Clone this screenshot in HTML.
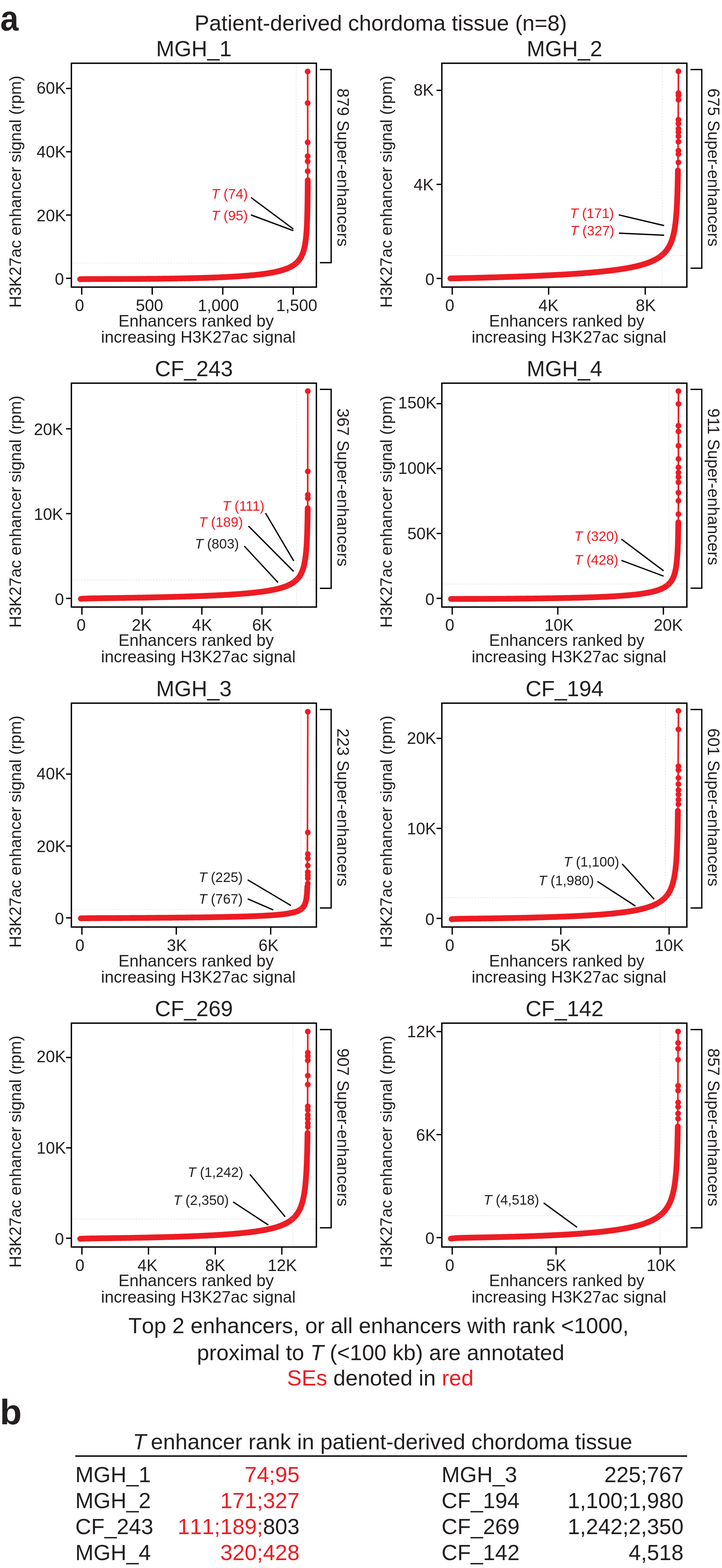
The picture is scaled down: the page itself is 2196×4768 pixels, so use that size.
<!DOCTYPE html>
<html lang="en"><head><meta charset="utf-8"><title>Patient-derived chordoma tissue - H3K27ac enhancer ranking</title>
<style>html,body{margin:0;padding:0;background:#fff}body{width:2196px;height:4768px;overflow:hidden}svg{display:block}text{font-family:'Liberation Sans', Arial, Helvetica, sans-serif;white-space:pre}.nk{font-kerning:none}</style>
</head><body>
<svg xmlns="http://www.w3.org/2000/svg" width="2196" height="4768" viewBox="0 0 2196 4768">
<rect width="2196" height="4768" fill="#fff"/>
<text transform="translate(1.1 93.4) scale(0.925 1)" font-size="107.7" font-weight="bold" fill="#231f20">a</text>
<text x="1158" y="93.3" font-size="66.7" text-anchor="middle" fill="#231f20">Patient-derived chordoma tissue (n=8)</text>
<g>
<text x="589.7" y="170.6" font-size="66.7" text-anchor="middle" fill="#231f20">MGH_1</text>
<path d="M219.5 799.8H960.5" stroke="#d2d2d2" stroke-width="1.4" stroke-dasharray="4.4 4.4" fill="none"/>
<path d="M900.8 194.3V871" stroke="#d2d2d2" stroke-width="1.4" stroke-dasharray="4.4 4.4" fill="none"/>
<path d="M243.8 849 246.9 848.9 250 848.8 253.1 848.8 256.2 848.7 259.3 848.7 262.3 848.6 265.4 848.6 268.4 848.6 271.4 848.6 274.4 848.5 277.4 848.5 280.3 848.5 283.3 848.5 286.2 848.5 289.2 848.5 292.1 848.5 295 848.5 297.9 848.5 300.8 848.5 303.6 848.5 306.5 848.5 309.3 848.5 312.1 848.5 315 848.5 317.8 848.5 320.5 848.4 323.3 848.4 326.1 848.4 328.8 848.4 331.6 848.4 334.3 848.4 337 848.4 339.7 848.4 342.4 848.4 345.1 848.4 347.7 848.4 350.4 848.4 353 848.4 355.7 848.4 358.3 848.4 360.9 848.4 363.5 848.4 366.1 848.4 368.6 848.4 371.2 848.3 373.7 848.3 376.3 848.3 378.8 848.3 381.3 848.3 383.8 848.3 386.3 848.3 388.8 848.3 391.3 848.3 393.7 848.3 396.2 848.3 398.6 848.2 401 848.2 403.4 848.2 405.8 848.2 408.2 848.2 410.6 848.2 413 848.2 415.3 848.2 417.7 848.1 420 848.1 422.4 848.1 424.7 848.1 427 848.1 429.3 848.1 431.6 848.1 433.8 848 436.1 848 438.4 848 440.6 848 442.8 848 445.1 848 447.3 847.9 449.5 847.9 451.7 847.9 453.9 847.9 456 847.9 458.2 847.8 460.4 847.8 462.5 847.8 464.6 847.8 466.8 847.8 468.9 847.7 471 847.7 473.1 847.7 475.2 847.7 477.3 847.7 479.3 847.6 481.4 847.6 483.4 847.6 485.5 847.6 487.5 847.6 489.5 847.5 491.5 847.5 493.6 847.5 496.5 847.4 499.5 847.4 502.5 847.4 505.4 847.3 508.3 847.3 511.2 847.3 514.1 847.2 516.9 847.2 519.8 847.1 522.6 847.1 525.4 847 528.1 847 530.9 847 533.6 846.9 536.4 846.9 539.1 846.8 541.8 846.8 544.4 846.7 547.1 846.7 549.7 846.6 552.3 846.6 554.9 846.5 557.5 846.5 560 846.4 562.6 846.4 565.1 846.3 567.6 846.3 570.1 846.2 572.6 846.2 575 846.1 577.5 846.1 579.9 846 582.3 846 584.7 845.9 587.1 845.9 589.4 845.8 591.8 845.7 594.1 845.7 596.4 845.6 598.7 845.6 601 845.5 603.3 845.4 605.5 845.4 607.8 845.3 610 845.3 612.2 845.2 614.4 845.1 616.6 845.1 618.7 845 620.9 844.9 623 844.9 625.1 844.8 627.2 844.8 629.3 844.7 631.4 844.6 633.4 844.6 635.5 844.5 637.5 844.4 639.5 844.3 641.5 844.3 644.2 844.2 646.8 844.1 649.4 844 652 843.9 654.6 843.8 657.1 843.7 659.6 843.6 662.1 843.5 664.6 843.4 667 843.3 669.5 843.2 671.9 843.1 674.2 843 676.6 842.9 678.9 842.8 681.3 842.7 683.6 842.6 685.8 842.5 688.1 842.3 690.3 842.2 692.5 842.1 694.7 842 696.9 841.9 699.1 841.8 701.2 841.7 703.3 841.6 705.4 841.4 707.5 841.3 709.6 841.2 711.6 841.1 713.6 841 715.6 840.8 718.1 840.7 720.6 840.5 723 840.4 725.4 840.2 727.8 840.1 730.1 839.9 732.4 839.7 734.7 839.6 737 839.4 739.2 839.3 741.5 839.1 743.6 838.9 745.8 838.8 748 838.6 750.1 838.4 752.2 838.2 754.2 838.1 756.3 837.9 758.3 837.7 760.3 837.5 762.7 837.3 765 837.1 767.3 836.9 769.6 836.7 771.9 836.5 774.1 836.2 776.3 836 778.4 835.8 780.6 835.6 782.7 835.3 784.7 835.1 786.8 834.9 788.8 834.6 790.8 834.4 793.1 834.1 795.3 833.8 797.6 833.5 799.7 833.3 801.9 833 804 832.7 806.1 832.4 808.1 832.1 810.2 831.8 812.1 831.5 814.4 831.1 816.6 830.8 818.7 830.4 820.8 830.1 822.9 829.7 824.9 829.4 826.9 829 828.9 828.6 831.1 828.2 833.2 827.8 835.3 827.4 837.3 826.9 839.3 826.5 841.3 826.1 843.4 825.6 845.5 825.1 847.5 824.6 849.5 824.1 851.5 823.6 853.6 823 855.6 822.4 857.6 821.8 859.6 821.2 861.6 820.6 863.6 819.9 865.6 819.3 867.5 818.6 869.5 817.9 871.4 817.1 873.3 816.4 875.3 815.6 877.2 814.8 879.1 813.9 881 813 882.9 812.1 884.6 811.2 886.5 810.1 888.3 809.1 890 808.1 891.8 807 893.5 805.8 895.2 804.6 896.8 803.4 898.4 802.1 900 800.8 901.6 799.4 903.1 798 904.6 796.6 906 795.1 907.3 793.5 908.6 792 909.9 790.4 911.1 788.7 912.3 787 913.5 785.3 914.5 783.5 915.6 781.7 916.6 779.9 917.5 778 918.4 776.1 919.2 774.2 920 772.4 920.8 770.5 921.5 768.6 922.1 766.6 922.8 764.6 923.4 762.6 924 760.7 924.5 758.8 925 756.8 925.5 754.7 926 752.7 926.4 750.7 926.8 748.7 927.2 746.7 927.6 744.7 928 742.6 928.3 740.6 928.6 738.6 928.9 736.6 929.2 734.5 929.5 732.4 929.8 730.4 930 728.4 930.3 726.4 930.5 724.3 930.7 722.2 930.9 720.1 931.1 718.1 931.3 716.1 931.5 714 931.7 711.9 931.9 709.9 932 707.7 932.2 705.7 932.3 703.7 932.5 701.7 932.6 699.6 932.7 697.5 932.9 695.4 933 693.3 933.1 691.3 933.2 689.3 933.3 687.2 933.4 685.2 933.5 683.1 933.6 681 933.7 678.9 933.8 676.7 933.9 674.6 933.9 672.6 934 670.5 934.1 668.5 934.2 666.4 934.2 664.3 934.3 662.2 934.4 660.1 934.4 658 934.5 655.8 934.6 653.6 934.6 651.6 934.7 649.6 934.7 647.5 934.8 645.5 934.8 643.4 934.9 641.3 934.9 639.2 935 637.1 935 634.9 935.1 632.7 935.1 630.5 935.1 628.5 935.2 626.5 935.2 624.5 935.3 622.4 935.3 620.4 935.3 618.3 935.4 616.2 935.4 614.1 935.4 612 935.5 609.8 935.5 607.7 935.5 605.5 935.5 603.3 935.6 601.1 935.6 598.9 935.6 596.9 935.6 594.8 935.7 592.8 935.7 590.7 935.7 588.7 935.7 586.6 935.8 584.5 935.8 582.4 935.8 580.3 935.8 578.1 935.8 576 935.9 573.8 935.9 571.6 935.9 569.4 935.9 567.2 935.9 565 936 562.7 936 560.7 936 558.7 936 556.7 936 554.6 936 552.6 936 550.5 936.1 548.4 936.1 547.7" stroke="#ed1c24" stroke-width="17.6" stroke-linecap="round" stroke-linejoin="round" fill="none"/>
<path d="M936.1 547.7L935.8 217.4" stroke="#ed1c24" stroke-width="4.9" fill="none"/>
<circle cx="935.8" cy="217.4" r="8.8" fill="#ed1c24"/>
<circle cx="935.8" cy="313.2" r="8.8" fill="#ed1c24"/>
<circle cx="935.8" cy="432.9" r="8.8" fill="#ed1c24"/>
<circle cx="935.8" cy="475" r="8.8" fill="#ed1c24"/>
<circle cx="935.8" cy="490.5" r="8.8" fill="#ed1c24"/>
<circle cx="935.8" cy="520.5" r="8.8" fill="#ed1c24"/>
<path d="M219.5 799.8H960.5" stroke="#fff" stroke-opacity=".22" stroke-width="1.4" stroke-dasharray="4.4 4.4" fill="none"/>
<path d="M900.8 194.3V871" stroke="#fff" stroke-opacity=".22" stroke-width="1.4" stroke-dasharray="4.4 4.4" fill="none"/>
<rect x="217.1" y="192.3" width="745.2" height="680.7" fill="none" stroke="#000000" stroke-width="4.2"/>
<path d="M200.9 269H217.1" stroke="#000000" stroke-width="4"/>
<text x="200.3" y="285.4" font-size="50" text-anchor="end" fill="#231f20">60K</text>
<path d="M200.9 461.4H217.1" stroke="#000000" stroke-width="4"/>
<text x="200.3" y="479.1" font-size="50" text-anchor="end" fill="#231f20">40K</text>
<path d="M200.9 653.9H217.1" stroke="#000000" stroke-width="4"/>
<text x="200.3" y="672.7" font-size="50" text-anchor="end" fill="#231f20">20K</text>
<path d="M200.9 846.3H217.1" stroke="#000000" stroke-width="4"/>
<text x="194.6" y="866.4" font-size="50" text-anchor="end" fill="#231f20">0</text>
<path d="M248.6 873V896" stroke="#000000" stroke-width="4"/>
<text x="241.8" y="946.3" font-size="50" text-anchor="middle" fill="#231f20">0</text>
<path d="M463 873V896" stroke="#000000" stroke-width="4"/>
<text x="454.6" y="946.3" font-size="50" text-anchor="middle" fill="#231f20">500</text>
<path d="M677.6 873V896" stroke="#000000" stroke-width="4"/>
<text x="664" y="946.3" font-size="50" text-anchor="middle" fill="#231f20">1,000</text>
<path d="M892 873V896" stroke="#000000" stroke-width="4"/>
<text x="902.5" y="946.3" font-size="50" text-anchor="middle" fill="#231f20">1,500</text>
<text x="360.3" y="992.6" font-size="50" text-anchor="start" fill="#231f20">Enhancers ranked by</text>
<text x="603.2" y="1042.2" font-size="50" text-anchor="middle" fill="#231f20">increasing H3K27ac signal</text>
<text transform="translate(64.3 935.8) rotate(-90)" font-size="50" fill="#231f20">H3K27ac enhancer signal (rpm)</text>
<path d="M973 211.6H1007.2V798.8H973" stroke="#000000" stroke-width="4" fill="none"/>
<text transform="translate(1025.8 268.8) rotate(90)" font-size="50" fill="#231f20">879 Super-enhancers</text>
<text x="754" y="603.7" font-size="41.7" text-anchor="end" fill="#ed1c24"><tspan font-style="italic">T</tspan> (74)</text>
<path d="M763.4 600.5L892.2 696.3" stroke="#000000" stroke-width="4" fill="none"/>
<text x="754" y="670.2" font-size="41.7" text-anchor="end" fill="#ed1c24"><tspan font-style="italic">T</tspan> (95)</text>
<path d="M763.4 653.5L892.2 701.3" stroke="#000000" stroke-width="4" fill="none"/>
</g>
<g>
<text x="1717" y="170.6" font-size="66.7" text-anchor="middle" fill="#231f20">MGH_2</text>
<path d="M1346.8 777H2087.8" stroke="#d2d2d2" stroke-width="1.4" stroke-dasharray="4.4 4.4" fill="none"/>
<path d="M2013.8 194.3V871" stroke="#d2d2d2" stroke-width="1.4" stroke-dasharray="4.4 4.4" fill="none"/>
<path d="M1369.9 846.6 1373 846.6 1376.1 846.5 1379.2 846.5 1382.3 846.4 1385.4 846.3 1388.4 846.3 1391.5 846.2 1394.5 846.1 1397.5 846.1 1400.5 846 1403.5 845.9 1406.5 845.8 1409.5 845.8 1412.4 845.7 1415.3 845.6 1418.3 845.6 1421.2 845.5 1424.1 845.4 1426.9 845.4 1429.8 845.3 1432.7 845.2 1435.5 845.2 1438.3 845.1 1441.2 845 1444 845 1446.8 844.9 1449.5 844.8 1452.3 844.7 1455.1 844.7 1457.8 844.6 1460.5 844.5 1463.3 844.5 1466 844.4 1468.6 844.3 1471.3 844.2 1474 844.2 1476.7 844.1 1479.3 844 1481.9 844 1484.6 843.9 1487.2 843.8 1489.8 843.7 1492.3 843.7 1494.9 843.6 1497.5 843.5 1500 843.5 1502.6 843.4 1505.1 843.3 1507.6 843.2 1510.1 843.2 1512.6 843.1 1515.1 843 1517.6 842.9 1520 842.9 1522.5 842.8 1524.9 842.7 1527.4 842.6 1529.8 842.6 1532.2 842.5 1534.6 842.4 1537 842.3 1539.3 842.3 1541.7 842.2 1544 842.1 1546.4 842 1548.7 841.9 1551 841.9 1553.3 841.8 1555.6 841.7 1557.9 841.6 1560.2 841.6 1562.5 841.5 1564.7 841.4 1567 841.3 1569.2 841.3 1571.5 841.2 1573.7 841.1 1575.9 841 1578.1 840.9 1580.3 840.9 1582.4 840.8 1584.6 840.7 1586.8 840.6 1588.9 840.5 1591.1 840.5 1593.2 840.4 1595.3 840.3 1597.4 840.2 1599.5 840.1 1601.6 840.1 1603.7 840 1605.8 839.9 1607.8 839.8 1609.9 839.7 1611.9 839.6 1614 839.6 1616 839.5 1618 839.4 1620 839.3 1622 839.2 1625 839.1 1628 839 1630.9 838.9 1633.8 838.7 1636.7 838.6 1639.6 838.5 1642.5 838.4 1645.3 838.2 1648.1 838.1 1651 838 1653.7 837.8 1656.5 837.7 1659.3 837.6 1662 837.5 1664.7 837.3 1667.4 837.2 1670.1 837.1 1672.7 836.9 1675.4 836.8 1678 836.7 1680.6 836.5 1683.2 836.4 1685.8 836.3 1688.3 836.1 1690.8 836 1693.4 835.9 1695.9 835.7 1698.3 835.6 1700.8 835.5 1703.3 835.3 1705.7 835.2 1708.1 835.1 1710.5 834.9 1712.9 834.8 1715.3 834.7 1717.6 834.5 1720 834.4 1722.3 834.2 1724.6 834.1 1726.9 834 1729.1 833.8 1731.4 833.7 1733.6 833.5 1735.9 833.4 1738.1 833.3 1740.3 833.1 1742.5 833 1744.6 832.8 1746.8 832.7 1748.9 832.5 1751.1 832.4 1753.2 832.2 1755.3 832.1 1757.4 832 1759.4 831.8 1761.5 831.7 1763.5 831.5 1765.5 831.4 1767.6 831.2 1769.6 831.1 1772.2 830.9 1774.8 830.7 1777.4 830.5 1780 830.3 1782.6 830.1 1785.1 829.9 1787.6 829.7 1790.1 829.5 1792.5 829.3 1795 829.1 1797.4 828.9 1799.8 828.6 1802.2 828.4 1804.5 828.2 1806.8 828 1809.2 827.8 1811.4 827.6 1813.7 827.4 1816 827.2 1818.2 827 1820.4 826.8 1822.6 826.5 1824.8 826.3 1826.9 826.1 1829 825.9 1831.1 825.7 1833.2 825.5 1835.3 825.2 1837.4 825 1839.4 824.8 1841.4 824.6 1843.4 824.4 1845.9 824.1 1848.3 823.8 1850.8 823.5 1853.2 823.2 1855.5 823 1857.9 822.7 1860.2 822.4 1862.5 822.1 1864.7 821.8 1866.9 821.5 1869.2 821.2 1871.3 820.9 1873.5 820.6 1875.6 820.4 1877.8 820.1 1879.8 819.8 1881.9 819.5 1884 819.2 1886 818.9 1888 818.6 1890.3 818.2 1892.7 817.8 1895 817.5 1897.2 817.1 1899.5 816.7 1901.7 816.3 1903.9 816 1906 815.6 1908.2 815.2 1910.3 814.8 1912.3 814.4 1914.4 814 1916.4 813.7 1918.4 813.3 1920.6 812.8 1922.9 812.4 1925.1 811.9 1927.3 811.4 1929.4 811 1931.5 810.5 1933.6 810 1935.6 809.5 1937.6 809.1 1939.6 808.6 1941.6 808.1 1943.8 807.5 1945.9 807 1948 806.4 1950.1 805.8 1952.1 805.3 1954.1 804.7 1956.1 804.1 1958 803.5 1960.2 802.9 1962.2 802.2 1964.3 801.5 1966.3 800.8 1968.3 800.1 1970.2 799.5 1972.1 798.8 1974.1 798 1976.1 797.2 1978.1 796.4 1980 795.6 1981.9 794.8 1983.7 794 1985.7 793.1 1987.6 792.2 1989.5 791.3 1991.3 790.4 1993.1 789.4 1995 788.4 1996.8 787.4 1998.6 786.3 2000.3 785.3 2002 784.2 2003.8 783.1 2005.6 781.9 2007.2 780.7 2008.9 779.5 2010.5 778.3 2012.1 776.9 2013.7 775.6 2015.3 774.3 2016.8 772.9 2018.3 771.5 2019.8 770 2021.3 768.5 2022.7 766.9 2024.1 765.4 2025.4 763.8 2026.7 762.2 2027.9 760.6 2029.1 759 2030.3 757.3 2031.4 755.6 2032.5 753.9 2033.5 752.2 2034.5 750.5 2035.5 748.7 2036.4 746.9 2037.4 745.1 2038.2 743.3 2039.1 741.5 2039.9 739.6 2040.7 737.7 2041.5 735.8 2042.2 733.9 2043 731.9 2043.7 729.9 2044.3 727.9 2045 725.9 2045.6 724 2046.1 722.1 2046.7 720.1 2047.2 718.1 2047.7 716.1 2048.3 714.1 2048.7 712 2049.2 710 2049.7 707.9 2050.1 705.9 2050.5 703.9 2050.9 701.9 2051.2 699.9 2051.6 697.8 2052 695.8 2052.3 693.7 2052.6 691.6 2053 689.4 2053.3 687.4 2053.5 685.4 2053.8 683.4 2054.1 681.3 2054.4 679.3 2054.6 677.2 2054.9 675.1 2055.1 672.9 2055.3 670.8 2055.5 668.8 2055.7 666.8 2055.9 664.8 2056.1 662.7 2056.3 660.6 2056.5 658.6 2056.7 656.5 2056.9 654.4 2057 652.2 2057.2 650.1 2057.4 647.9 2057.5 645.7 2057.7 643.7 2057.8 641.7 2058 639.6 2058.1 637.6 2058.2 635.5 2058.3 633.4 2058.5 631.3 2058.6 629.2 2058.7 627 2058.8 624.9 2058.9 622.7 2059 620.5 2059.2 618.3 2059.3 616.3 2059.3 614.3 2059.4 612.2 2059.5 610.2 2059.6 608.1 2059.7 606 2059.8 604 2059.9 601.8 2059.9 599.7 2060 597.6 2060.1 595.4 2060.2 593.3 2060.3 591.1 2060.3 588.9 2060.4 586.7 2060.5 584.4 2060.5 582.2 2060.6 580.2 2060.7 578.1 2060.7 576.1 2060.8 574.1 2060.8 572 2060.9 569.9 2060.9 567.8 2061 565.7 2061 563.6 2061.1 561.5 2061.1 559.3 2061.2 557.2 2061.2 555 2061.3 552.8 2061.3 550.6 2061.4 548.4 2061.4 546.2 2061.5 543.9 2061.5 541.7 2061.6 539.4 2061.6 537.1 2061.6 535.1 2061.7 533.1 2061.7 531 2061.7 529 2061.8 526.9 2061.8 524.9 2061.8 522.8 2061.9 520.7 2061.9 518.6 2061.9 518.3" stroke="#ed1c24" stroke-width="17.6" stroke-linecap="round" stroke-linejoin="round" fill="none"/>
<path d="M2061.9 518.3L2063.5 216.8" stroke="#ed1c24" stroke-width="4.9" fill="none"/>
<circle cx="2063.5" cy="216.8" r="8.8" fill="#ed1c24"/>
<circle cx="2063.5" cy="283.3" r="8.8" fill="#ed1c24"/>
<circle cx="2063.5" cy="290.7" r="8.8" fill="#ed1c24"/>
<circle cx="2063.5" cy="303.4" r="8.8" fill="#ed1c24"/>
<circle cx="2063.5" cy="364" r="8.8" fill="#ed1c24"/>
<circle cx="2063.5" cy="375.7" r="8.8" fill="#ed1c24"/>
<circle cx="2063.5" cy="391.2" r="8.8" fill="#ed1c24"/>
<circle cx="2063.5" cy="401.7" r="8.8" fill="#ed1c24"/>
<circle cx="2063.5" cy="414.2" r="8.8" fill="#ed1c24"/>
<circle cx="2063.5" cy="431" r="8.8" fill="#ed1c24"/>
<circle cx="2063.5" cy="458.1" r="8.8" fill="#ed1c24"/>
<circle cx="2063.5" cy="468.6" r="8.8" fill="#ed1c24"/>
<circle cx="2063.5" cy="493.7" r="8.8" fill="#ed1c24"/>
<path d="M1346.8 777H2087.8" stroke="#fff" stroke-opacity=".22" stroke-width="1.4" stroke-dasharray="4.4 4.4" fill="none"/>
<path d="M2013.8 194.3V871" stroke="#fff" stroke-opacity=".22" stroke-width="1.4" stroke-dasharray="4.4 4.4" fill="none"/>
<rect x="1343.9" y="192.3" width="745.2" height="680.7" fill="none" stroke="#000000" stroke-width="4.2"/>
<path d="M1327.7 274.7H1343.9" stroke="#000000" stroke-width="4"/>
<text x="1319.1" y="291.1" font-size="50" text-anchor="end" fill="#231f20">8K</text>
<path d="M1327.7 560.7H1343.9" stroke="#000000" stroke-width="4"/>
<text x="1319.1" y="579" font-size="50" text-anchor="end" fill="#231f20">4K</text>
<path d="M1327.7 846.7H1343.9" stroke="#000000" stroke-width="4"/>
<text x="1321.4" y="866.8" font-size="50" text-anchor="end" fill="#231f20">0</text>
<path d="M1375.5 873V896" stroke="#000000" stroke-width="4"/>
<text x="1368" y="946.3" font-size="50" text-anchor="middle" fill="#231f20">0</text>
<path d="M1668.7 873V896" stroke="#000000" stroke-width="4"/>
<text x="1668.3" y="946.3" font-size="50" text-anchor="middle" fill="#231f20">4K</text>
<path d="M1962.5 873V896" stroke="#000000" stroke-width="4"/>
<text x="1964" y="946.3" font-size="50" text-anchor="middle" fill="#231f20">8K</text>
<text x="1487.6" y="992.6" font-size="50" text-anchor="start" fill="#231f20">Enhancers ranked by</text>
<text x="1730.5" y="1042.2" font-size="50" text-anchor="middle" fill="#231f20">increasing H3K27ac signal</text>
<text transform="translate(1191.6 935.8) rotate(-90)" font-size="50" fill="#231f20">H3K27ac enhancer signal (rpm)</text>
<path d="M2100.3 211.5H2134.5V815.6H2100.3" stroke="#000000" stroke-width="4" fill="none"/>
<text transform="translate(2153.1 268.8) rotate(90)" font-size="50" fill="#231f20">675 Super-enhancers</text>
<text x="1867.5" y="662.5" font-size="41.7" text-anchor="end" fill="#ed1c24"><tspan font-style="italic">T</tspan> (171)</text>
<path d="M1882 653.4L2020 686" stroke="#000000" stroke-width="4" fill="none"/>
<text x="1868.5" y="715.5" font-size="41.7" text-anchor="end" fill="#ed1c24"><tspan font-style="italic">T</tspan> (327)</text>
<path d="M1882.8 709L2020 715.3" stroke="#000000" stroke-width="4" fill="none"/>
</g>
<g>
<text x="589.7" y="1143.5" font-size="66.7" text-anchor="middle" fill="#231f20">CF_243</text>
<path d="M219.5 1764H960.5" stroke="#d2d2d2" stroke-width="1.4" stroke-dasharray="4.4 4.4" fill="none"/>
<path d="M902.3 1167.2V1843.9" stroke="#d2d2d2" stroke-width="1.4" stroke-dasharray="4.4 4.4" fill="none"/>
<path d="M245.9 1821 249 1820.7 252.1 1820.5 255.2 1820.3 258.3 1820.2 261.3 1820.1 264.4 1820 267.4 1819.9 270.4 1819.8 273.4 1819.7 276.4 1819.6 279.4 1819.6 282.4 1819.5 285.3 1819.4 288.2 1819.4 291.2 1819.4 294.1 1819.3 297 1819.3 299.9 1819.2 302.7 1819.2 305.6 1819.1 308.4 1819.1 311.3 1819.1 314.1 1819 316.9 1819 319.7 1818.9 322.5 1818.9 325.2 1818.9 328 1818.8 330.7 1818.8 333.5 1818.8 336.2 1818.7 338.9 1818.7 341.6 1818.6 344.3 1818.6 347 1818.6 349.6 1818.5 352.3 1818.5 354.9 1818.5 357.5 1818.4 360.1 1818.4 362.7 1818.3 365.3 1818.3 367.9 1818.3 370.5 1818.2 373 1818.2 375.6 1818.1 378.1 1818.1 380.6 1818.1 383.1 1818 385.6 1818 388.1 1817.9 390.6 1817.9 393 1817.9 395.5 1817.8 397.9 1817.8 400.4 1817.7 402.8 1817.7 405.2 1817.7 407.6 1817.6 410 1817.6 412.3 1817.5 414.7 1817.5 417.1 1817.5 419.4 1817.4 421.7 1817.4 424.1 1817.3 426.4 1817.3 428.7 1817.2 431 1817.2 433.2 1817.2 435.5 1817.1 437.8 1817.1 440 1817 442.3 1817 444.5 1816.9 446.7 1816.9 448.9 1816.9 451.1 1816.8 453.3 1816.8 455.5 1816.7 457.7 1816.7 459.8 1816.6 462 1816.6 464.1 1816.5 466.2 1816.5 468.4 1816.5 470.5 1816.4 472.6 1816.4 474.7 1816.3 476.8 1816.3 478.8 1816.2 480.9 1816.2 483 1816.1 485 1816.1 487 1816 489.1 1816 491.1 1816 493.1 1815.9 495.1 1815.9 498.1 1815.8 501.1 1815.7 504 1815.6 506.9 1815.6 509.8 1815.5 512.7 1815.4 515.6 1815.4 518.4 1815.3 521.3 1815.2 524.1 1815.1 526.8 1815.1 529.6 1815 532.4 1814.9 535.1 1814.8 537.8 1814.8 540.5 1814.7 543.2 1814.6 545.9 1814.5 548.5 1814.5 551.1 1814.4 553.7 1814.3 556.3 1814.2 558.9 1814.2 561.4 1814.1 564 1814 566.5 1813.9 569 1813.8 571.5 1813.8 574 1813.7 576.4 1813.6 578.8 1813.5 581.3 1813.4 583.7 1813.4 586.1 1813.3 588.4 1813.2 590.8 1813.1 593.1 1813 595.4 1813 597.8 1812.9 600 1812.8 602.3 1812.7 604.6 1812.6 606.8 1812.5 609.1 1812.5 611.3 1812.4 613.5 1812.3 615.7 1812.2 617.8 1812.1 620 1812 622.1 1811.9 624.3 1811.9 626.4 1811.8 628.5 1811.7 630.6 1811.6 632.6 1811.5 634.7 1811.4 636.7 1811.3 638.8 1811.2 640.8 1811.2 642.8 1811.1 645.4 1810.9 648 1810.8 650.6 1810.7 653.2 1810.6 655.8 1810.5 658.3 1810.3 660.8 1810.2 663.3 1810.1 665.8 1810 668.2 1809.8 670.6 1809.7 673 1809.6 675.4 1809.5 677.8 1809.3 680.1 1809.2 682.4 1809.1 684.7 1809 687 1808.8 689.2 1808.7 691.4 1808.6 693.7 1808.4 695.9 1808.3 698 1808.2 700.2 1808 702.3 1807.9 704.4 1807.8 706.5 1807.6 708.6 1807.5 710.6 1807.3 712.7 1807.2 714.7 1807.1 716.7 1806.9 719.2 1806.8 721.6 1806.6 724.1 1806.4 726.4 1806.2 728.8 1806.1 731.2 1805.9 733.5 1805.7 735.8 1805.5 738 1805.3 740.3 1805.1 742.5 1805 744.7 1804.8 746.8 1804.6 749 1804.4 751.1 1804.2 753.2 1804 755.2 1803.8 757.3 1803.6 759.3 1803.5 761.3 1803.3 763.7 1803 766 1802.8 768.3 1802.6 770.6 1802.3 772.8 1802.1 775 1801.8 777.2 1801.6 779.4 1801.4 781.5 1801.1 783.6 1800.9 785.7 1800.6 787.7 1800.4 789.7 1800.1 791.7 1799.9 794 1799.6 796.3 1799.3 798.5 1799 800.6 1798.7 802.8 1798.4 804.9 1798 807 1797.7 809 1797.4 811 1797.1 813 1796.8 815.2 1796.4 817.4 1796.1 819.6 1795.7 821.7 1795.3 823.8 1794.9 825.8 1794.6 827.8 1794.2 830 1793.7 832.2 1793.3 834.3 1792.9 836.3 1792.4 838.4 1792 840.4 1791.5 842.3 1791 844.4 1790.5 846.5 1790 848.5 1789.5 850.5 1789 852.5 1788.4 854.6 1787.8 856.6 1787.2 858.6 1786.6 860.5 1786 862.6 1785.3 864.6 1784.6 866.5 1783.9 868.4 1783.2 870.4 1782.5 872.3 1781.7 874.2 1780.9 876.2 1780.1 878.1 1779.2 879.9 1778.3 881.7 1777.4 883.6 1776.4 885.4 1775.4 887.1 1774.4 888.9 1773.4 890.6 1772.3 892.3 1771.1 894 1769.9 895.6 1768.7 897.2 1767.5 898.8 1766.1 900.3 1764.8 901.8 1763.4 903.3 1761.9 904.7 1760.4 906.1 1758.8 907.4 1757.3 908.7 1755.7 909.9 1754 911.1 1752.4 912.2 1750.7 913.2 1749 914.2 1747.2 915.2 1745.5 916.1 1743.6 917 1741.8 917.9 1739.9 918.7 1738 919.5 1736.1 920.2 1734.2 920.9 1732.3 921.6 1730.4 922.2 1728.4 922.8 1726.4 923.4 1724.4 923.9 1722.4 924.4 1720.4 924.9 1718.4 925.4 1716.4 925.8 1714.4 926.2 1712.4 926.6 1710.4 927 1708.3 927.4 1706.3 927.7 1704.3 928 1702.3 928.4 1700.2 928.7 1698.2 928.9 1696.1 929.2 1694 929.5 1692 929.7 1689.9 930 1687.9 930.2 1685.8 930.4 1683.7 930.6 1681.5 930.8 1679.5 931 1677.5 931.2 1675.4 931.4 1673.3 931.6 1671.2 931.7 1669.1 931.9 1667.1 932 1665.1 932.2 1663 932.3 1661 932.5 1658.9 932.6 1656.8 932.7 1654.6 932.9 1652.5 933 1650.5 933.1 1648.5 933.2 1646.4 933.3 1644.4 933.4 1642.3 933.5 1640.2 933.6 1638.1 933.7 1635.9 933.8 1633.7 933.9 1631.6 933.9 1629.5 934 1627.5 934.1 1625.5 934.2 1623.4 934.3 1621.3 934.3 1619.2 934.4 1617.1 934.5 1614.9 934.5 1612.8 934.6 1610.6 934.7 1608.4 934.7 1606.4 934.8 1604.4 934.8 1602.3 934.9 1600.3 934.9 1598.2 935 1596.1 935 1594 935.1 1591.9 935.1 1589.7 935.2 1587.6 935.2 1585.4 935.3 1583.2 935.3 1581 935.3 1578.8 935.4 1576.7 935.4 1574.7 935.5 1572.7 935.5 1570.7 935.5 1568.6 935.6 1566.5 935.6 1564.4 935.6 1562.3 935.7 1560.2 935.7 1558.1 935.7 1555.9 935.8 1553.7 935.8 1551.6 935.8 1549.4 935.8 1547.1 935.9 1545.2" stroke="#ed1c24" stroke-width="17.6" stroke-linecap="round" stroke-linejoin="round" fill="none"/>
<path d="M935.9 1545.2L936.2 1189.3" stroke="#ed1c24" stroke-width="4.9" fill="none"/>
<circle cx="936.2" cy="1189.3" r="8.8" fill="#ed1c24"/>
<circle cx="936.2" cy="1433.3" r="8.8" fill="#ed1c24"/>
<circle cx="936.2" cy="1504.7" r="8.8" fill="#ed1c24"/>
<circle cx="936.2" cy="1515" r="8.8" fill="#ed1c24"/>
<path d="M219.5 1764H960.5" stroke="#fff" stroke-opacity=".22" stroke-width="1.4" stroke-dasharray="4.4 4.4" fill="none"/>
<path d="M902.3 1167.2V1843.9" stroke="#fff" stroke-opacity=".22" stroke-width="1.4" stroke-dasharray="4.4 4.4" fill="none"/>
<rect x="217.1" y="1165.2" width="745.2" height="680.7" fill="none" stroke="#000000" stroke-width="4.2"/>
<path d="M200.9 1303.9H217.1" stroke="#000000" stroke-width="4"/>
<text x="191.9" y="1322.5" font-size="50" text-anchor="end" fill="#231f20">20K</text>
<path d="M200.9 1561.8H217.1" stroke="#000000" stroke-width="4"/>
<text x="191.9" y="1581.1" font-size="50" text-anchor="end" fill="#231f20">10K</text>
<path d="M200.9 1819.6H217.1" stroke="#000000" stroke-width="4"/>
<text x="194.6" y="1839.7" font-size="50" text-anchor="end" fill="#231f20">0</text>
<path d="M249.1 1845.9V1868.9" stroke="#000000" stroke-width="4"/>
<text x="246.8" y="1917.7" font-size="50" text-anchor="middle" fill="#231f20">0</text>
<path d="M431.9 1845.9V1868.9" stroke="#000000" stroke-width="4"/>
<text x="431.2" y="1917.7" font-size="50" text-anchor="middle" fill="#231f20">2K</text>
<path d="M614 1845.9V1868.9" stroke="#000000" stroke-width="4"/>
<text x="614.7" y="1917.7" font-size="50" text-anchor="middle" fill="#231f20">4K</text>
<path d="M796.8 1845.9V1868.9" stroke="#000000" stroke-width="4"/>
<text x="797.6" y="1917.7" font-size="50" text-anchor="middle" fill="#231f20">6K</text>
<text x="360.3" y="1964" font-size="50" text-anchor="start" fill="#231f20">Enhancers ranked by</text>
<text x="603.2" y="2013.6" font-size="50" text-anchor="middle" fill="#231f20">increasing H3K27ac signal</text>
<text transform="translate(64.3 1908.7) rotate(-90)" font-size="50" fill="#231f20">H3K27ac enhancer signal (rpm)</text>
<path d="M973 1183.9H1007.2V1789H973" stroke="#000000" stroke-width="4" fill="none"/>
<text transform="translate(1025.8 1241.7) rotate(90)" font-size="50" fill="#231f20">367 Super-enhancers</text>
<text x="804.5" y="1552.5" font-size="41.7" text-anchor="end" fill="#ed1c24"><tspan font-style="italic">T</tspan> (111)</text>
<path d="M807.6 1560.3L893.5 1705.8" stroke="#000000" stroke-width="4" fill="none"/>
<text x="739.1" y="1601.7" font-size="41.7" text-anchor="end" fill="#ed1c24"><tspan font-style="italic">T</tspan> (189)</text>
<path d="M755.7 1599.6L893 1737.5" stroke="#000000" stroke-width="4" fill="none"/>
<text x="727" y="1668.3" font-size="41.7" text-anchor="end" fill="#231f20"><tspan font-style="italic">T</tspan> (803)</text>
<path d="M743 1660.6L845.6 1771.4" stroke="#000000" stroke-width="4" fill="none"/>
</g>
<g>
<text x="1717" y="1143.5" font-size="66.7" text-anchor="middle" fill="#231f20">MGH_4</text>
<path d="M1346.8 1776H2087.8" stroke="#d2d2d2" stroke-width="1.4" stroke-dasharray="4.4 4.4" fill="none"/>
<path d="M2034.5 1167.2V1843.9" stroke="#d2d2d2" stroke-width="1.4" stroke-dasharray="4.4 4.4" fill="none"/>
<path d="M1371.7 1821.2 1374.8 1821.2 1377.9 1821.2 1381 1821.2 1384.1 1821.2 1387.2 1821.2 1390.2 1821.2 1393.3 1821.2 1396.3 1821.2 1399.3 1821.2 1402.3 1821.2 1405.3 1821.2 1408.2 1821.2 1411.2 1821.1 1414.1 1821.1 1417.1 1821.1 1420 1821.1 1422.9 1821.1 1425.8 1821.1 1428.6 1821.1 1431.5 1821.1 1434.4 1821.1 1437.2 1821.1 1440 1821.1 1442.8 1821.1 1445.6 1821.1 1448.4 1821.1 1451.2 1821.1 1454 1821 1456.7 1821 1459.5 1821 1462.2 1821 1464.9 1821 1467.6 1821 1470.3 1821 1473 1821 1475.6 1821 1478.3 1821 1480.9 1821 1483.5 1820.9 1486.2 1820.9 1488.8 1820.9 1491.4 1820.9 1493.9 1820.9 1496.5 1820.9 1499.1 1820.9 1501.6 1820.9 1504.2 1820.9 1506.7 1820.8 1509.2 1820.8 1511.7 1820.8 1514.2 1820.8 1516.7 1820.8 1519.1 1820.8 1521.6 1820.8 1524 1820.7 1526.5 1820.7 1528.9 1820.7 1531.3 1820.7 1533.7 1820.7 1536.1 1820.7 1538.5 1820.7 1540.8 1820.6 1543.2 1820.6 1545.6 1820.6 1547.9 1820.6 1550.2 1820.6 1552.5 1820.6 1554.8 1820.6 1557.1 1820.5 1559.4 1820.5 1561.7 1820.5 1564 1820.5 1566.2 1820.5 1568.5 1820.4 1570.7 1820.4 1572.9 1820.4 1575.1 1820.4 1577.3 1820.4 1579.5 1820.4 1581.7 1820.3 1583.9 1820.3 1586.1 1820.3 1588.2 1820.3 1590.4 1820.3 1592.5 1820.2 1594.6 1820.2 1596.7 1820.2 1598.8 1820.2 1600.9 1820.2 1603 1820.1 1605.1 1820.1 1607.2 1820.1 1609.2 1820.1 1611.3 1820.1 1613.3 1820 1615.4 1820 1617.4 1820 1619.4 1820 1621.4 1820 1624.4 1819.9 1627.4 1819.9 1630.3 1819.8 1633.2 1819.8 1636.2 1819.8 1639 1819.7 1641.9 1819.7 1644.8 1819.7 1647.6 1819.6 1650.4 1819.6 1653.2 1819.6 1656 1819.5 1658.7 1819.5 1661.5 1819.4 1664.2 1819.4 1666.9 1819.4 1669.6 1819.3 1672.3 1819.3 1674.9 1819.2 1677.5 1819.2 1680.1 1819.2 1682.7 1819.1 1685.3 1819.1 1687.9 1819 1690.4 1819 1692.9 1818.9 1695.5 1818.9 1697.9 1818.9 1700.4 1818.8 1702.9 1818.8 1705.3 1818.7 1707.7 1818.7 1710.1 1818.6 1712.5 1818.6 1714.9 1818.5 1717.3 1818.5 1719.6 1818.4 1721.9 1818.4 1724.3 1818.3 1726.6 1818.3 1728.8 1818.2 1731.1 1818.2 1733.4 1818.1 1735.6 1818.1 1737.8 1818 1740 1818 1742.2 1817.9 1744.4 1817.9 1746.5 1817.8 1748.7 1817.8 1750.8 1817.7 1752.9 1817.7 1755 1817.6 1757.1 1817.6 1759.2 1817.5 1761.3 1817.5 1763.3 1817.4 1765.3 1817.3 1767.4 1817.3 1769.4 1817.2 1772 1817.2 1774.6 1817.1 1777.3 1817 1779.8 1816.9 1782.4 1816.8 1784.9 1816.8 1787.4 1816.7 1789.9 1816.6 1792.4 1816.5 1794.8 1816.4 1797.3 1816.4 1799.7 1816.3 1802.1 1816.2 1804.4 1816.1 1806.8 1816 1809.1 1815.9 1811.4 1815.8 1813.6 1815.8 1815.9 1815.7 1818.1 1815.6 1820.3 1815.5 1822.5 1815.4 1824.7 1815.3 1826.9 1815.2 1829 1815.1 1831.1 1815 1833.2 1814.9 1835.3 1814.8 1837.4 1814.8 1839.4 1814.7 1841.4 1814.6 1843.4 1814.5 1845.9 1814.3 1848.4 1814.2 1850.8 1814.1 1853.2 1814 1855.6 1813.8 1857.9 1813.7 1860.2 1813.6 1862.5 1813.5 1864.8 1813.3 1867 1813.2 1869.3 1813.1 1871.4 1812.9 1873.6 1812.8 1875.8 1812.7 1877.9 1812.5 1880 1812.4 1882 1812.3 1884.1 1812.1 1886.1 1812 1888.1 1811.8 1890.5 1811.7 1892.8 1811.5 1895.1 1811.3 1897.4 1811.1 1899.7 1811 1901.9 1810.8 1904.1 1810.6 1906.2 1810.4 1908.4 1810.3 1910.5 1810.1 1912.5 1809.9 1914.6 1809.7 1916.6 1809.5 1918.9 1809.3 1921.2 1809.1 1923.5 1808.8 1925.7 1808.6 1927.8 1808.4 1930 1808.2 1932.1 1807.9 1934.2 1807.7 1936.2 1807.4 1938.2 1807.2 1940.5 1806.9 1942.7 1806.6 1944.9 1806.4 1947 1806.1 1949.1 1805.8 1951.2 1805.5 1953.2 1805.2 1955.2 1804.9 1957.4 1804.6 1959.6 1804.2 1961.7 1803.9 1963.8 1803.5 1965.8 1803.2 1967.8 1802.8 1969.9 1802.4 1972 1802 1974.1 1801.6 1976.1 1801.2 1978.1 1800.8 1980.2 1800.3 1982.3 1799.9 1984.3 1799.4 1986.3 1798.9 1988.4 1798.4 1990.4 1797.9 1992.4 1797.3 1994.3 1796.8 1996.4 1796.2 1998.3 1795.5 2000.2 1794.9 2002.2 1794.2 2004.2 1793.6 2006.1 1792.9 2008 1792.1 2009.9 1791.3 2011.8 1790.5 2013.7 1789.6 2015.5 1788.8 2017.4 1787.8 2019.1 1786.9 2020.9 1785.9 2022.7 1784.8 2024.4 1783.7 2026.1 1782.6 2027.8 1781.3 2029.4 1780.1 2031 1778.8 2032.5 1777.4 2034 1776.1 2035.4 1774.6 2036.9 1773.1 2038.2 1771.6 2039.5 1770 2040.7 1768.3 2041.9 1766.7 2043 1765 2044 1763.3 2045 1761.5 2045.9 1759.7 2046.8 1757.9 2047.7 1756 2048.5 1754.1 2049.3 1752.2 2050 1750.3 2050.7 1748.3 2051.3 1746.3 2051.9 1744.4 2052.4 1742.4 2053 1740.4 2053.5 1738.4 2054 1736.4 2054.4 1734.4 2054.8 1732.4 2055.2 1730.4 2055.6 1728.4 2056 1726.3 2056.3 1724.3 2056.6 1722.3 2056.9 1720.2 2057.2 1718.2 2057.5 1716.1 2057.7 1714.1 2058 1712 2058.2 1710 2058.4 1707.9 2058.6 1705.9 2058.8 1703.9 2059 1701.8 2059.2 1699.7 2059.4 1697.6 2059.5 1695.6 2059.7 1693.6 2059.9 1691.6 2060 1689.5 2060.1 1687.4 2060.3 1685.3 2060.4 1683.3 2060.5 1681.2 2060.6 1679.2 2060.8 1677.1 2060.9 1675 2061 1672.9 2061.1 1670.7 2061.2 1668.7 2061.3 1666.7 2061.4 1664.6 2061.4 1662.5 2061.5 1660.4 2061.6 1658.3 2061.7 1656.1 2061.8 1654 2061.8 1651.9 2061.9 1649.9 2062 1647.8 2062 1645.8 2062.1 1643.7 2062.2 1641.5 2062.2 1639.4 2062.3 1637.2 2062.3 1635 2062.4 1633 2062.4 1631 2062.5 1628.9 2062.5 1626.8 2062.6 1624.8 2062.6 1622.6 2062.7 1620.5 2062.7 1618.4 2062.7 1616.2 2062.8 1614 2062.8 1611.8 2062.9 1609.8 2062.9 1607.8 2062.9 1605.7 2063 1603.7 2063 1601.6 2063 1599.5 2063.1 1597.4 2063.1 1595.2 2063.1 1593.1 2063.1 1590.9 2063.2 1588.7 2063.2 1588" stroke="#ed1c24" stroke-width="17.6" stroke-linecap="round" stroke-linejoin="round" fill="none"/>
<path d="M2063.2 1588L2063.5 1189.3" stroke="#ed1c24" stroke-width="4.9" fill="none"/>
<circle cx="2063.5" cy="1189.3" r="8.8" fill="#ed1c24"/>
<circle cx="2063.5" cy="1228.2" r="8.8" fill="#ed1c24"/>
<circle cx="2063.5" cy="1294.6" r="8.8" fill="#ed1c24"/>
<circle cx="2063.5" cy="1311.8" r="8.8" fill="#ed1c24"/>
<circle cx="2063.5" cy="1355.6" r="8.8" fill="#ed1c24"/>
<circle cx="2063.5" cy="1395.4" r="8.8" fill="#ed1c24"/>
<circle cx="2063.5" cy="1421.1" r="8.8" fill="#ed1c24"/>
<circle cx="2063.5" cy="1437" r="8.8" fill="#ed1c24"/>
<circle cx="2063.5" cy="1450.5" r="8.8" fill="#ed1c24"/>
<circle cx="2063.5" cy="1466.3" r="8.8" fill="#ed1c24"/>
<circle cx="2063.5" cy="1498" r="8.8" fill="#ed1c24"/>
<circle cx="2063.5" cy="1522.8" r="8.8" fill="#ed1c24"/>
<circle cx="2063.5" cy="1563.5" r="8.8" fill="#ed1c24"/>
<path d="M1346.8 1776H2087.8" stroke="#fff" stroke-opacity=".22" stroke-width="1.4" stroke-dasharray="4.4 4.4" fill="none"/>
<path d="M2034.5 1167.2V1843.9" stroke="#fff" stroke-opacity=".22" stroke-width="1.4" stroke-dasharray="4.4 4.4" fill="none"/>
<rect x="1343.9" y="1165.2" width="745.2" height="680.7" fill="none" stroke="#000000" stroke-width="4.2"/>
<path d="M1327.7 1227.5H1343.9" stroke="#000000" stroke-width="4"/>
<text x="1327.9" y="1242.1" font-size="50" text-anchor="end" fill="#231f20">150K</text>
<path d="M1327.7 1424.8H1343.9" stroke="#000000" stroke-width="4"/>
<text x="1327.9" y="1441.3" font-size="50" text-anchor="end" fill="#231f20">100K</text>
<path d="M1327.7 1622.2H1343.9" stroke="#000000" stroke-width="4"/>
<text x="1327.9" y="1640.4" font-size="50" text-anchor="end" fill="#231f20">50K</text>
<path d="M1327.7 1819.5H1343.9" stroke="#000000" stroke-width="4"/>
<text x="1321.4" y="1839.6" font-size="50" text-anchor="end" fill="#231f20">0</text>
<path d="M1375.5 1845.9V1868.9" stroke="#000000" stroke-width="4"/>
<text x="1368" y="1917.7" font-size="50" text-anchor="middle" fill="#231f20">0</text>
<path d="M1696.6 1845.9V1868.9" stroke="#000000" stroke-width="4"/>
<text x="1700.4" y="1917.7" font-size="50" text-anchor="middle" fill="#231f20">10K</text>
<path d="M2017.7 1845.9V1868.9" stroke="#000000" stroke-width="4"/>
<text x="2032.4" y="1917.7" font-size="50" text-anchor="middle" fill="#231f20">20K</text>
<text x="1487.6" y="1964" font-size="50" text-anchor="start" fill="#231f20">Enhancers ranked by</text>
<text x="1730.5" y="2013.6" font-size="50" text-anchor="middle" fill="#231f20">increasing H3K27ac signal</text>
<text transform="translate(1191.6 1908.7) rotate(-90)" font-size="50" fill="#231f20">H3K27ac enhancer signal (rpm)</text>
<path d="M2100.3 1183.9H2134.5V1788.5H2100.3" stroke="#000000" stroke-width="4" fill="none"/>
<text transform="translate(2153.1 1241.7) rotate(90)" font-size="50" fill="#231f20">911 Super-enhancers</text>
<text x="1881" y="1645.1" font-size="41.7" text-anchor="end" fill="#ed1c24"><tspan font-style="italic">T</tspan> (320)</text>
<path d="M1890 1639.3L2018.4 1735.9" stroke="#000000" stroke-width="4" fill="none"/>
<text x="1881" y="1716.6" font-size="41.7" text-anchor="end" fill="#ed1c24"><tspan font-style="italic">T</tspan> (428)</text>
<path d="M1890 1704L2018.4 1752" stroke="#000000" stroke-width="4" fill="none"/>
</g>
<g>
<text x="589.7" y="2116.5" font-size="66.7" text-anchor="middle" fill="#231f20">MGH_3</text>
<path d="M219.5 2765.9H960.5" stroke="#d2d2d2" stroke-width="1.4" stroke-dasharray="4.4 4.4" fill="none"/>
<path d="M914.9 2140.2V2816.9" stroke="#d2d2d2" stroke-width="1.4" stroke-dasharray="4.4 4.4" fill="none"/>
<path d="M245.9 2792.4 249 2792.4 252.1 2792.3 255.2 2792.3 258.3 2792.2 261.3 2792.2 264.3 2792.1 267.4 2792.1 270.4 2792.1 273.4 2792.1 276.4 2792 279.3 2792 282.3 2792 285.2 2792 288.2 2792 291.1 2791.9 294 2791.9 296.9 2791.9 299.8 2791.9 302.6 2791.9 305.5 2791.9 308.3 2791.8 311.2 2791.8 314 2791.8 316.8 2791.8 319.6 2791.8 322.3 2791.8 325.1 2791.8 327.9 2791.8 330.6 2791.7 333.3 2791.7 336 2791.7 338.7 2791.7 341.4 2791.7 344.1 2791.7 346.8 2791.7 349.4 2791.7 352.1 2791.7 354.7 2791.6 357.3 2791.6 359.9 2791.6 362.5 2791.6 365.1 2791.6 367.7 2791.6 370.2 2791.6 372.8 2791.6 375.3 2791.5 377.8 2791.5 380.4 2791.5 382.9 2791.5 385.4 2791.5 387.8 2791.5 390.3 2791.5 392.8 2791.5 395.2 2791.4 397.6 2791.4 400.1 2791.4 402.5 2791.4 404.9 2791.4 407.3 2791.4 409.7 2791.4 412 2791.3 414.4 2791.3 416.7 2791.3 419.1 2791.3 421.4 2791.3 423.7 2791.3 426 2791.3 428.3 2791.2 430.6 2791.2 432.9 2791.2 435.2 2791.2 437.4 2791.2 439.7 2791.2 441.9 2791.2 444.1 2791.2 446.3 2791.1 448.6 2791.1 450.8 2791.1 452.9 2791.1 455.1 2791.1 457.3 2791.1 459.4 2791 461.6 2791 463.7 2791 465.8 2791 468 2791 470.1 2791 472.2 2791 474.3 2790.9 476.3 2790.9 478.4 2790.9 480.5 2790.9 482.5 2790.9 484.6 2790.9 486.6 2790.9 488.6 2790.8 490.6 2790.8 492.7 2790.8 495.6 2790.8 498.6 2790.8 501.6 2790.7 504.5 2790.7 507.4 2790.7 510.3 2790.7 513.2 2790.6 516 2790.6 518.9 2790.6 521.7 2790.6 524.5 2790.5 527.3 2790.5 530 2790.5 532.8 2790.5 535.5 2790.4 538.2 2790.4 540.9 2790.4 543.5 2790.4 546.2 2790.3 548.8 2790.3 551.4 2790.3 554 2790.3 556.6 2790.2 559.2 2790.2 561.7 2790.2 564.2 2790.2 566.8 2790.1 569.2 2790.1 571.7 2790.1 574.2 2790 576.6 2790 579.1 2790 581.5 2790 583.9 2789.9 586.2 2789.9 588.6 2789.9 590.9 2789.8 593.3 2789.8 595.6 2789.8 597.9 2789.8 600.2 2789.7 602.4 2789.7 604.7 2789.7 606.9 2789.6 609.1 2789.6 611.4 2789.6 613.5 2789.6 615.7 2789.5 617.9 2789.5 620 2789.5 622.2 2789.4 624.3 2789.4 626.4 2789.4 628.5 2789.3 630.6 2789.3 632.6 2789.3 634.7 2789.2 636.7 2789.2 638.7 2789.2 640.7 2789.2 643.4 2789.1 646 2789.1 648.6 2789 651.2 2789 653.8 2788.9 656.3 2788.9 658.8 2788.9 661.3 2788.8 663.8 2788.8 666.2 2788.7 668.7 2788.7 671.1 2788.6 673.4 2788.6 675.8 2788.5 678.2 2788.5 680.5 2788.5 682.8 2788.4 685 2788.4 687.3 2788.3 689.5 2788.3 691.8 2788.2 694 2788.2 696.1 2788.1 698.3 2788.1 700.4 2788 702.5 2788 704.6 2787.9 706.7 2787.9 708.8 2787.8 710.8 2787.8 712.9 2787.7 714.9 2787.7 717.3 2787.6 719.8 2787.6 722.2 2787.5 724.6 2787.4 727 2787.4 729.4 2787.3 731.7 2787.2 734 2787.2 736.2 2787.1 738.5 2787.1 740.7 2787 742.9 2786.9 745.1 2786.9 747.2 2786.8 749.3 2786.7 751.4 2786.7 753.5 2786.6 755.6 2786.5 757.6 2786.4 759.6 2786.4 762 2786.3 764.3 2786.2 766.6 2786.1 768.9 2786 771.2 2786 773.4 2785.9 775.6 2785.8 777.7 2785.7 779.9 2785.6 782 2785.5 784 2785.4 786.1 2785.3 788.1 2785.2 790.4 2785.1 792.7 2785 795 2784.9 797.2 2784.8 799.3 2784.7 801.5 2784.6 803.6 2784.5 805.7 2784.4 807.7 2784.3 809.7 2784.1 812 2784 814.2 2783.9 816.4 2783.8 818.6 2783.6 820.7 2783.5 822.7 2783.3 824.8 2783.2 827 2783.1 829.2 2782.9 831.4 2782.7 833.5 2782.6 835.5 2782.4 837.6 2782.3 839.8 2782.1 841.9 2781.9 844 2781.7 846.1 2781.5 848.1 2781.3 850.2 2781.1 852.4 2780.9 854.4 2780.7 856.4 2780.5 858.5 2780.2 860.6 2780 862.6 2779.7 864.8 2779.5 866.8 2779.2 868.8 2778.9 870.9 2778.6 873 2778.3 875.1 2778 877.1 2777.7 879.2 2777.3 881.2 2776.9 883.3 2776.5 885.3 2776.1 887.3 2775.7 889.4 2775.2 891.3 2774.8 893.3 2774.3 895.3 2773.7 897.3 2773.1 899.3 2772.5 901.2 2771.9 903.1 2771.2 905 2770.4 906.9 2769.6 908.7 2768.7 910.5 2767.8 912.3 2766.8 914 2765.7 915.7 2764.6 917.3 2763.3 918.8 2762 920.2 2760.6 921.6 2759.1 922.9 2757.5 924 2755.8 925.1 2754.1 926 2752.4 926.9 2750.5 927.7 2748.7 928.4 2746.8 929.1 2744.9 929.6 2742.9 930.2 2741 930.6 2739 931 2737 931.4 2735 931.8 2733 932.1 2731 932.4 2729 932.6 2727 932.9 2725 933.1 2722.9 933.3 2720.9 933.5 2718.9 933.6 2716.8 933.8 2714.8 933.9 2712.8 934 2710.8 934.2 2708.7 934.3 2706.7 934.4 2704.7 934.5 2702.7 934.6 2700.6 934.6 2698.6 934.7 2696.6 934.7 2696" stroke="#ed1c24" stroke-width="17.6" stroke-linecap="round" stroke-linejoin="round" fill="none"/>
<path d="M934.7 2696L936.2 2164.3" stroke="#ed1c24" stroke-width="4.9" fill="none"/>
<circle cx="936.2" cy="2164.3" r="8.8" fill="#ed1c24"/>
<circle cx="936.2" cy="2531.2" r="8.8" fill="#ed1c24"/>
<circle cx="936.2" cy="2596.8" r="8.8" fill="#ed1c24"/>
<circle cx="936.2" cy="2610.3" r="8.8" fill="#ed1c24"/>
<circle cx="936.2" cy="2632.1" r="8.8" fill="#ed1c24"/>
<circle cx="936.2" cy="2652" r="8.8" fill="#ed1c24"/>
<circle cx="936.2" cy="2661.3" r="8.8" fill="#ed1c24"/>
<circle cx="936.2" cy="2670.6" r="8.8" fill="#ed1c24"/>
<circle cx="936.2" cy="2686.6" r="8.8" fill="#ed1c24"/>
<path d="M219.5 2765.9H960.5" stroke="#fff" stroke-opacity=".22" stroke-width="1.4" stroke-dasharray="4.4 4.4" fill="none"/>
<path d="M914.9 2140.2V2816.9" stroke="#fff" stroke-opacity=".22" stroke-width="1.4" stroke-dasharray="4.4 4.4" fill="none"/>
<rect x="217.1" y="2138.2" width="745.2" height="680.7" fill="none" stroke="#000000" stroke-width="4.2"/>
<path d="M200.9 2353.9H217.1" stroke="#000000" stroke-width="4"/>
<text x="200.3" y="2370.3" font-size="50" text-anchor="end" fill="#231f20">40K</text>
<path d="M200.9 2572.5H217.1" stroke="#000000" stroke-width="4"/>
<text x="200.3" y="2590.8" font-size="50" text-anchor="end" fill="#231f20">20K</text>
<path d="M200.9 2791.1H217.1" stroke="#000000" stroke-width="4"/>
<text x="194.6" y="2811.2" font-size="50" text-anchor="end" fill="#231f20">0</text>
<path d="M249.1 2818.9V2841.9" stroke="#000000" stroke-width="4"/>
<text x="243" y="2892.2" font-size="50" text-anchor="middle" fill="#231f20">0</text>
<path d="M536.2 2818.9V2841.9" stroke="#000000" stroke-width="4"/>
<text x="538" y="2892.2" font-size="50" text-anchor="middle" fill="#231f20">3K</text>
<path d="M823.3 2818.9V2841.9" stroke="#000000" stroke-width="4"/>
<text x="816.8" y="2892.2" font-size="50" text-anchor="middle" fill="#231f20">6K</text>
<text x="360.3" y="2938.5" font-size="50" text-anchor="start" fill="#231f20">Enhancers ranked by</text>
<text x="603.2" y="2988.1" font-size="50" text-anchor="middle" fill="#231f20">increasing H3K27ac signal</text>
<text transform="translate(64.3 2881.7) rotate(-90)" font-size="50" fill="#231f20">H3K27ac enhancer signal (rpm)</text>
<path d="M973 2157.5H1007.2V2761H973" stroke="#000000" stroke-width="4" fill="none"/>
<text transform="translate(1025.8 2214.7) rotate(90)" font-size="50" fill="#231f20">223 Super-enhancers</text>
<text x="738.5" y="2682.2" font-size="41.7" text-anchor="end" fill="#231f20"><tspan font-style="italic">T</tspan> (225)</text>
<path d="M753.5 2675.5L885 2753.6" stroke="#000000" stroke-width="4" fill="none"/>
<text x="738.5" y="2747.5" font-size="41.7" text-anchor="end" fill="#231f20"><tspan font-style="italic">T</tspan> (767)</text>
<path d="M753.5 2733.3L831.2 2767" stroke="#000000" stroke-width="4" fill="none"/>
</g>
<g>
<text x="1717" y="2116.5" font-size="66.7" text-anchor="middle" fill="#231f20">CF_194</text>
<path d="M1346.8 2729.5H2087.8" stroke="#d2d2d2" stroke-width="1.4" stroke-dasharray="4.4 4.4" fill="none"/>
<path d="M2023.8 2140.2V2816.9" stroke="#d2d2d2" stroke-width="1.4" stroke-dasharray="4.4 4.4" fill="none"/>
<path d="M1373.7 2795.1 1376.8 2794.9 1379.9 2794.7 1383 2794.5 1386 2794.4 1389.1 2794.2 1392.1 2794.1 1395.2 2794 1398.2 2794 1401.2 2793.9 1404.1 2793.8 1407.1 2793.8 1410.1 2793.7 1413 2793.7 1415.9 2793.6 1418.9 2793.6 1421.8 2793.5 1424.7 2793.5 1427.5 2793.5 1430.4 2793.4 1433.2 2793.4 1436.1 2793.4 1438.9 2793.3 1441.7 2793.3 1444.5 2793.3 1447.3 2793.2 1450.1 2793.2 1452.8 2793.2 1455.6 2793.1 1458.3 2793.1 1461.1 2793.1 1463.8 2793 1466.5 2793 1469.2 2793 1471.8 2792.9 1474.5 2792.9 1477.2 2792.9 1479.8 2792.8 1482.4 2792.8 1485 2792.7 1487.7 2792.7 1490.2 2792.7 1492.8 2792.6 1495.4 2792.6 1498 2792.6 1500.5 2792.5 1503 2792.5 1505.6 2792.5 1508.1 2792.4 1510.6 2792.4 1513.1 2792.3 1515.5 2792.3 1518 2792.3 1520.5 2792.2 1522.9 2792.2 1525.4 2792.1 1527.8 2792.1 1530.2 2792.1 1532.6 2792 1535 2792 1537.4 2791.9 1539.7 2791.9 1542.1 2791.9 1544.4 2791.8 1546.8 2791.8 1549.1 2791.7 1551.4 2791.7 1553.7 2791.7 1556 2791.6 1558.3 2791.6 1560.6 2791.5 1562.9 2791.5 1565.1 2791.4 1567.4 2791.4 1569.6 2791.3 1571.8 2791.3 1574 2791.3 1576.2 2791.2 1578.4 2791.2 1580.6 2791.1 1582.8 2791.1 1584.9 2791 1587.1 2791 1589.3 2790.9 1591.4 2790.9 1593.5 2790.8 1595.6 2790.8 1597.7 2790.8 1599.8 2790.7 1601.9 2790.7 1604 2790.6 1606.1 2790.6 1608.1 2790.5 1610.2 2790.5 1612.2 2790.4 1614.3 2790.4 1616.3 2790.3 1618.3 2790.3 1620.3 2790.2 1623.3 2790.1 1626.3 2790.1 1629.2 2790 1632.1 2789.9 1635.1 2789.8 1637.9 2789.8 1640.8 2789.7 1643.7 2789.6 1646.5 2789.5 1649.3 2789.4 1652.1 2789.4 1654.9 2789.3 1657.6 2789.2 1660.4 2789.1 1663.1 2789 1665.8 2788.9 1668.5 2788.9 1671.2 2788.8 1673.8 2788.7 1676.4 2788.6 1679.1 2788.5 1681.6 2788.4 1684.2 2788.3 1686.8 2788.3 1689.3 2788.2 1691.8 2788.1 1694.4 2788 1696.8 2787.9 1699.3 2787.8 1701.8 2787.7 1704.2 2787.6 1706.6 2787.5 1709.1 2787.4 1711.4 2787.3 1713.8 2787.3 1716.2 2787.2 1718.5 2787.1 1720.9 2787 1723.2 2786.9 1725.5 2786.8 1727.7 2786.7 1730 2786.6 1732.3 2786.5 1734.5 2786.4 1736.7 2786.3 1738.9 2786.2 1741.1 2786.1 1743.3 2786 1745.5 2785.9 1747.6 2785.8 1749.7 2785.7 1751.9 2785.6 1754 2785.5 1756 2785.4 1758.1 2785.3 1760.2 2785.2 1762.2 2785.1 1764.3 2785 1766.3 2784.9 1768.3 2784.7 1770.9 2784.6 1773.6 2784.5 1776.2 2784.3 1778.8 2784.2 1781.3 2784 1783.9 2783.9 1786.4 2783.7 1788.9 2783.6 1791.3 2783.4 1793.8 2783.3 1796.2 2783.1 1798.6 2783 1801 2782.8 1803.3 2782.7 1805.7 2782.5 1808 2782.4 1810.3 2782.2 1812.6 2782 1814.8 2781.9 1817.1 2781.7 1819.3 2781.6 1821.5 2781.4 1823.7 2781.2 1825.8 2781.1 1827.9 2780.9 1830.1 2780.7 1832.2 2780.6 1834.2 2780.4 1836.3 2780.2 1838.3 2780.1 1840.4 2779.9 1842.4 2779.7 1844.9 2779.5 1847.3 2779.3 1849.7 2779.1 1852.1 2778.9 1854.5 2778.6 1856.9 2778.4 1859.2 2778.2 1861.5 2778 1863.7 2777.7 1866 2777.5 1868.2 2777.3 1870.4 2777.1 1872.6 2776.8 1874.7 2776.6 1876.8 2776.3 1878.9 2776.1 1881 2775.9 1883 2775.6 1885.1 2775.4 1887.1 2775.1 1889.4 2774.9 1891.8 2774.6 1894.1 2774.3 1896.4 2774 1898.6 2773.7 1900.9 2773.4 1903 2773.1 1905.2 2772.7 1907.3 2772.4 1909.4 2772.1 1911.5 2771.8 1913.6 2771.5 1915.6 2771.2 1917.6 2770.8 1919.9 2770.5 1922.1 2770.1 1924.3 2769.7 1926.5 2769.3 1928.7 2768.9 1930.8 2768.5 1932.9 2768.1 1934.9 2767.7 1936.9 2767.3 1938.9 2766.9 1941.1 2766.5 1943.3 2766 1945.5 2765.5 1947.6 2765 1949.7 2764.6 1951.7 2764.1 1953.7 2763.6 1955.7 2763.1 1957.8 2762.5 1960 2762 1962.1 2761.4 1964.1 2760.8 1966.1 2760.2 1968.1 2759.6 1970 2759 1972.1 2758.4 1974.1 2757.7 1976.1 2757 1978.1 2756.3 1980 2755.6 1982 2754.9 1984 2754.1 1986 2753.3 1987.9 2752.5 1989.7 2751.7 1991.7 2750.8 1993.6 2749.9 1995.5 2749 1997.3 2748.1 1999.1 2747.1 2001 2746.1 2002.8 2745.1 2004.5 2744 2006.2 2743 2008 2741.8 2009.8 2740.6 2011.4 2739.4 2013.1 2738.2 2014.7 2736.9 2016.4 2735.6 2017.9 2734.2 2019.5 2732.9 2020.9 2731.5 2022.4 2730.1 2023.8 2728.5 2025.2 2727 2026.6 2725.4 2027.9 2723.8 2029.2 2722.2 2030.4 2720.6 2031.6 2718.9 2032.7 2717.2 2033.8 2715.5 2034.9 2713.8 2035.9 2712 2036.9 2710.2 2037.8 2708.4 2038.7 2706.5 2039.6 2704.6 2040.5 2702.7 2041.3 2700.8 2042.1 2698.8 2042.8 2696.9 2043.5 2695 2044.2 2693 2044.9 2691.1 2045.5 2689.1 2046.1 2687.1 2046.7 2685.1 2047.2 2683 2047.7 2681.1 2048.2 2679.1 2048.7 2677.1 2049.2 2675.1 2049.6 2673.1 2050.1 2671 2050.5 2668.9 2050.9 2666.9 2051.2 2664.9 2051.6 2662.9 2051.9 2660.9 2052.3 2658.8 2052.6 2656.7 2052.9 2654.6 2053.2 2652.4 2053.5 2650.4 2053.8 2648.4 2054.1 2646.4 2054.3 2644.3 2054.6 2642.2 2054.8 2640.1 2055 2638 2055.3 2635.8 2055.5 2633.8 2055.7 2631.8 2055.9 2629.7 2056.1 2627.7 2056.2 2625.6 2056.4 2623.5 2056.6 2621.4 2056.8 2619.2 2056.9 2617 2057.1 2614.9 2057.3 2612.8 2057.4 2610.8 2057.5 2608.8 2057.7 2606.7 2057.8 2604.6 2057.9 2602.5 2058.1 2600.4 2058.2 2598.3 2058.3 2596.1 2058.4 2593.9 2058.5 2591.7 2058.7 2589.5 2058.8 2587.5 2058.9 2585.5 2059 2583.4 2059 2581.3 2059.1 2579.3 2059.2 2577.2 2059.3 2575 2059.4 2572.9 2059.5 2570.8 2059.6 2568.6 2059.7 2566.4 2059.7 2564.2 2059.8 2562 2059.9 2559.7 2060 2557.7 2060 2555.7 2060.1 2553.7 2060.2 2551.6 2060.2 2549.6 2060.3 2547.5 2060.3 2545.4 2060.4 2543.3 2060.5 2541.1 2060.5 2539 2060.6 2536.8 2060.6 2534.7 2060.7 2532.5 2060.7 2530.3 2060.8 2528.1 2060.8 2525.8 2060.9 2523.6 2060.9 2521.3 2061 2519.3 2061 2517.3 2061.1 2515.3 2061.1 2513.2 2061.1 2511.2 2061.2 2509.1 2061.2 2507 2061.3 2504.9 2061.3 2502.8 2061.3 2500.7 2061.4 2498.6 2061.4 2496.4 2061.4 2494.3 2061.5 2492.1 2061.5 2489.9 2061.5 2487.7 2061.6 2485.5 2061.6 2483.3 2061.6 2481 2061.7 2478.8 2061.7 2476.5 2061.7 2474.2 2061.8 2471.9 2061.8 2469.6 2061.8 2467.3 2061.8 2465.3" stroke="#ed1c24" stroke-width="17.6" stroke-linecap="round" stroke-linejoin="round" fill="none"/>
<path d="M2061.8 2465.3L2063.5 2161.6" stroke="#ed1c24" stroke-width="4.9" fill="none"/>
<circle cx="2063.5" cy="2161.6" r="8.8" fill="#ed1c24"/>
<circle cx="2063.5" cy="2218" r="8.8" fill="#ed1c24"/>
<circle cx="2063.5" cy="2330" r="8.8" fill="#ed1c24"/>
<circle cx="2063.5" cy="2341.4" r="8.8" fill="#ed1c24"/>
<circle cx="2063.5" cy="2365.4" r="8.8" fill="#ed1c24"/>
<circle cx="2063.5" cy="2384.4" r="8.8" fill="#ed1c24"/>
<circle cx="2063.5" cy="2402.4" r="8.8" fill="#ed1c24"/>
<circle cx="2063.5" cy="2416" r="8.8" fill="#ed1c24"/>
<circle cx="2063.5" cy="2431.8" r="8.8" fill="#ed1c24"/>
<circle cx="2063.5" cy="2445.4" r="8.8" fill="#ed1c24"/>
<path d="M1346.8 2729.5H2087.8" stroke="#fff" stroke-opacity=".22" stroke-width="1.4" stroke-dasharray="4.4 4.4" fill="none"/>
<path d="M2023.8 2140.2V2816.9" stroke="#fff" stroke-opacity=".22" stroke-width="1.4" stroke-dasharray="4.4 4.4" fill="none"/>
<rect x="1343.9" y="2138.2" width="745.2" height="680.7" fill="none" stroke="#000000" stroke-width="4.2"/>
<path d="M1327.7 2245.3H1343.9" stroke="#000000" stroke-width="4"/>
<text x="1326.7" y="2262.1" font-size="50" text-anchor="end" fill="#231f20">20K</text>
<path d="M1327.7 2519H1343.9" stroke="#000000" stroke-width="4"/>
<text x="1326.7" y="2537.4" font-size="50" text-anchor="end" fill="#231f20">10K</text>
<path d="M1327.7 2792.7H1343.9" stroke="#000000" stroke-width="4"/>
<text x="1321.4" y="2812.8" font-size="50" text-anchor="end" fill="#231f20">0</text>
<path d="M1375.5 2818.9V2841.9" stroke="#000000" stroke-width="4"/>
<text x="1368" y="2892.2" font-size="50" text-anchor="middle" fill="#231f20">0</text>
<path d="M1705.7 2818.9V2841.9" stroke="#000000" stroke-width="4"/>
<text x="1706" y="2892.2" font-size="50" text-anchor="middle" fill="#231f20">5K</text>
<path d="M2035.1 2818.9V2841.9" stroke="#000000" stroke-width="4"/>
<text x="2035.4" y="2892.2" font-size="50" text-anchor="middle" fill="#231f20">10K</text>
<text x="1487.6" y="2938.5" font-size="50" text-anchor="start" fill="#231f20">Enhancers ranked by</text>
<text x="1730.5" y="2988.1" font-size="50" text-anchor="middle" fill="#231f20">increasing H3K27ac signal</text>
<text transform="translate(1191.6 2881.7) rotate(-90)" font-size="50" fill="#231f20">H3K27ac enhancer signal (rpm)</text>
<path d="M2100.3 2157.5H2134.5V2761H2100.3" stroke="#000000" stroke-width="4" fill="none"/>
<text transform="translate(2153.1 2214.7) rotate(90)" font-size="50" fill="#231f20">601 Super-enhancers</text>
<text x="1883.5" y="2635.3" font-size="41.7" text-anchor="end" fill="#231f20"><tspan font-style="italic">T</tspan> (1,100)</text>
<path d="M1892.4 2627L1989.6 2734.3" stroke="#000000" stroke-width="4" fill="none"/>
<text x="1806.7" y="2692.2" font-size="41.7" text-anchor="end" fill="#231f20"><tspan font-style="italic">T</tspan> (1,980)</text>
<path d="M1817 2680.1L1932.8 2755.2" stroke="#000000" stroke-width="4" fill="none"/>
</g>
<g>
<text x="589.7" y="3089.5" font-size="66.7" text-anchor="middle" fill="#231f20">CF_269</text>
<path d="M219.5 3707H960.5" stroke="#d2d2d2" stroke-width="1.4" stroke-dasharray="4.4 4.4" fill="none"/>
<path d="M890.5 3113.2V3789.9" stroke="#d2d2d2" stroke-width="1.4" stroke-dasharray="4.4 4.4" fill="none"/>
<path d="M243.9 3767 247 3766.8 250.1 3766.6 253.2 3766.5 256.3 3766.4 259.4 3766.3 262.4 3766.2 265.5 3766.1 268.5 3766.1 271.5 3766 274.5 3765.9 277.5 3765.9 280.5 3765.8 283.5 3765.8 286.4 3765.8 289.3 3765.7 292.3 3765.7 295.2 3765.6 298.1 3765.6 300.9 3765.6 303.8 3765.5 306.7 3765.5 309.5 3765.4 312.3 3765.4 315.2 3765.4 318 3765.3 320.8 3765.3 323.5 3765.2 326.3 3765.2 329.1 3765.2 331.8 3765.1 334.5 3765.1 337.3 3765.1 340 3765 342.7 3765 345.3 3764.9 348 3764.9 350.7 3764.9 353.3 3764.8 355.9 3764.8 358.6 3764.7 361.2 3764.7 363.8 3764.7 366.4 3764.6 368.9 3764.6 371.5 3764.5 374 3764.5 376.6 3764.5 379.1 3764.4 381.6 3764.4 384.1 3764.3 386.6 3764.3 389.1 3764.3 391.6 3764.2 394 3764.2 396.5 3764.1 398.9 3764.1 401.4 3764 403.8 3764 406.2 3764 408.6 3763.9 411 3763.9 413.3 3763.8 415.7 3763.8 418 3763.7 420.4 3763.7 422.7 3763.6 425 3763.6 427.4 3763.6 429.7 3763.5 431.9 3763.5 434.2 3763.4 436.5 3763.4 438.7 3763.3 441 3763.3 443.2 3763.2 445.5 3763.2 447.7 3763.1 449.9 3763.1 452.1 3763 454.3 3763 456.5 3762.9 458.6 3762.9 460.8 3762.8 462.9 3762.8 465.1 3762.7 467.2 3762.7 469.3 3762.6 471.4 3762.6 473.5 3762.5 475.6 3762.5 477.7 3762.4 479.8 3762.4 481.8 3762.3 483.9 3762.3 485.9 3762.2 488 3762.2 490 3762.1 492 3762.1 494 3762 496 3762 499 3761.9 502 3761.8 504.9 3761.7 507.8 3761.7 510.7 3761.6 513.6 3761.5 516.5 3761.4 519.3 3761.3 522.2 3761.2 525 3761.2 527.7 3761.1 530.5 3761 533.3 3760.9 536 3760.8 538.7 3760.7 541.4 3760.7 544.1 3760.6 546.7 3760.5 549.4 3760.4 552 3760.3 554.6 3760.2 557.2 3760.1 559.8 3760 562.3 3759.9 564.8 3759.9 567.4 3759.8 569.9 3759.7 572.3 3759.6 574.8 3759.5 577.3 3759.4 579.7 3759.3 582.1 3759.2 584.5 3759.1 586.9 3759 589.3 3758.9 591.6 3758.8 594 3758.7 596.3 3758.6 598.6 3758.5 600.9 3758.4 603.2 3758.3 605.4 3758.2 607.7 3758.1 609.9 3758 612.1 3757.9 614.3 3757.8 616.5 3757.7 618.7 3757.6 620.8 3757.5 622.9 3757.4 625.1 3757.3 627.2 3757.2 629.3 3757.1 631.4 3757 633.4 3756.9 635.5 3756.8 637.5 3756.7 639.6 3756.6 641.6 3756.5 643.6 3756.4 646.2 3756.2 648.8 3756.1 651.4 3755.9 654 3755.8 656.6 3755.6 659.1 3755.5 661.6 3755.3 664.1 3755.2 666.5 3755 669 3754.9 671.4 3754.7 673.8 3754.6 676.2 3754.4 678.5 3754.3 680.8 3754.1 683.2 3753.9 685.5 3753.8 687.7 3753.6 690 3753.5 692.2 3753.3 694.4 3753.1 696.6 3753 698.8 3752.8 700.9 3752.7 703 3752.5 705.2 3752.3 707.2 3752.2 709.3 3752 711.4 3751.8 713.4 3751.6 715.4 3751.5 717.4 3751.3 719.9 3751.1 722.3 3750.9 724.8 3750.6 727.2 3750.4 729.5 3750.2 731.9 3750 734.2 3749.7 736.5 3749.5 738.7 3749.3 741 3749.1 743.2 3748.8 745.4 3748.6 747.5 3748.4 749.7 3748.1 751.8 3747.9 753.9 3747.7 755.9 3747.4 758 3747.2 760 3746.9 762 3746.7 764.3 3746.4 766.7 3746.1 769 3745.8 771.3 3745.5 773.5 3745.2 775.7 3744.9 777.9 3744.6 780 3744.2 782.2 3743.9 784.3 3743.6 786.3 3743.3 788.4 3743 790.4 3742.7 792.4 3742.3 794.6 3741.9 796.9 3741.6 799.1 3741.2 801.3 3740.8 803.4 3740.4 805.5 3740 807.6 3739.6 809.6 3739.2 811.7 3738.8 813.6 3738.3 815.9 3737.9 818 3737.4 820.2 3736.9 822.3 3736.4 824.4 3735.9 826.4 3735.4 828.4 3734.9 830.4 3734.4 832.5 3733.8 834.6 3733.3 836.7 3732.7 838.7 3732.1 840.7 3731.5 842.7 3730.9 844.6 3730.3 846.7 3729.6 848.7 3728.9 850.7 3728.2 852.7 3727.5 854.6 3726.8 856.6 3726 858.6 3725.1 860.6 3724.3 862.4 3723.5 864.3 3722.7 866.3 3721.7 868.2 3720.8 870 3719.8 871.9 3718.9 873.6 3717.9 875.5 3716.8 877.3 3715.7 879 3714.6 880.7 3713.5 882.4 3712.4 884.1 3711.2 885.8 3709.9 887.4 3708.6 889 3707.3 890.5 3706 892.1 3704.6 893.6 3703.1 895.1 3701.7 896.5 3700.2 897.9 3698.6 899.2 3697.1 900.5 3695.5 901.8 3693.9 903 3692.3 904.1 3690.7 905.2 3689 906.3 3687.3 907.4 3685.5 908.4 3683.8 909.4 3682 910.3 3680.2 911.3 3678.4 912.1 3676.5 913 3674.6 913.8 3672.7 914.6 3670.7 915.4 3668.7 916.1 3666.8 916.8 3664.9 917.4 3663 918.1 3661 918.7 3659 919.3 3657 919.9 3654.9 920.4 3653 920.9 3651 921.4 3649 921.9 3647 922.3 3645 922.8 3642.9 923.2 3640.8 923.6 3638.8 924 3636.8 924.4 3634.8 924.7 3632.8 925.1 3630.7 925.4 3628.6 925.8 3626.5 926.1 3624.4 926.4 3622.4 926.7 3620.4 926.9 3618.3 927.2 3616.3 927.5 3614.2 927.7 3612.1 928 3610 928.2 3607.8 928.5 3605.7 928.7 3603.6 928.9 3601.6 929.1 3599.6 929.3 3597.5 929.5 3595.4 929.7 3593.3 929.8 3591.2 930 3589 930.2 3586.9 930.4 3584.7 930.5 3582.7 930.7 3580.7 930.8 3578.6 931 3576.6 931.1 3574.5 931.2 3572.4 931.4 3570.3 931.5 3568.2 931.6 3566 931.8 3563.9 931.9 3561.7 932 3559.5 932.1 3557.2 932.2 3555.2 932.3 3553.2 932.4 3551.2 932.5 3549.1 932.6 3547.1 932.7 3545 932.8 3542.9 932.9 3540.8 933 3538.6 933.1 3536.5 933.2 3534.3 933.2 3532.1 933.3 3529.9 933.4 3527.7 933.5 3525.4 933.6 3523.1 933.6 3520.9 933.7 3518.9 933.8 3516.8 933.8 3514.8 933.9 3512.7 934 3510.6 934 3508.6 934.1 3506.5 934.2 3504.3 934.2 3502.2 934.3 3500.1 934.3 3497.9 934.4 3495.7 934.4 3493.5 934.5 3491.3 934.5 3489.1 934.6 3486.8 934.7 3484.6 934.7 3482.3 934.8 3480 934.8 3477.7 934.9 3475.4 934.9 3473.4 934.9 3471.3 935 3469.3 935 3467.3 935.1 3465.2 935.1 3463.1 935.1 3461.1 935.2 3459 935.2 3456.8 935.2 3454.7 935.3 3452.6 935.3 3450.4 935.3 3448.3 935.4 3446.1 935.4 3445" stroke="#ed1c24" stroke-width="17.6" stroke-linecap="round" stroke-linejoin="round" fill="none"/>
<path d="M935.4 3445L936.2 3136.5" stroke="#ed1c24" stroke-width="4.9" fill="none"/>
<circle cx="936.2" cy="3136.5" r="8.8" fill="#ed1c24"/>
<circle cx="936.2" cy="3200.7" r="8.8" fill="#ed1c24"/>
<circle cx="936.2" cy="3212" r="8.8" fill="#ed1c24"/>
<circle cx="936.2" cy="3224.2" r="8.8" fill="#ed1c24"/>
<circle cx="936.2" cy="3270.8" r="8.8" fill="#ed1c24"/>
<circle cx="936.2" cy="3297.9" r="8.8" fill="#ed1c24"/>
<circle cx="936.2" cy="3364.3" r="8.8" fill="#ed1c24"/>
<circle cx="936.2" cy="3374.7" r="8.8" fill="#ed1c24"/>
<circle cx="936.2" cy="3390.5" r="8.8" fill="#ed1c24"/>
<circle cx="936.2" cy="3401.8" r="8.8" fill="#ed1c24"/>
<circle cx="936.2" cy="3415.4" r="8.8" fill="#ed1c24"/>
<circle cx="936.2" cy="3426.7" r="8.8" fill="#ed1c24"/>
<path d="M219.5 3707H960.5" stroke="#fff" stroke-opacity=".22" stroke-width="1.4" stroke-dasharray="4.4 4.4" fill="none"/>
<path d="M890.5 3113.2V3789.9" stroke="#fff" stroke-opacity=".22" stroke-width="1.4" stroke-dasharray="4.4 4.4" fill="none"/>
<rect x="217.1" y="3111.2" width="745.2" height="680.7" fill="none" stroke="#000000" stroke-width="4.2"/>
<path d="M200.9 3215.6H217.1" stroke="#000000" stroke-width="4"/>
<text x="200.3" y="3230.4" font-size="50" text-anchor="end" fill="#231f20">20K</text>
<path d="M200.9 3490.4H217.1" stroke="#000000" stroke-width="4"/>
<text x="200.3" y="3507.8" font-size="50" text-anchor="end" fill="#231f20">10K</text>
<path d="M200.9 3765.2H217.1" stroke="#000000" stroke-width="4"/>
<text x="194.6" y="3785.3" font-size="50" text-anchor="end" fill="#231f20">0</text>
<path d="M249.1 3791.9V3814.9" stroke="#000000" stroke-width="4"/>
<text x="243" y="3864.7" font-size="50" text-anchor="middle" fill="#231f20">0</text>
<path d="M451.6 3791.9V3814.9" stroke="#000000" stroke-width="4"/>
<text x="448.5" y="3864.7" font-size="50" text-anchor="middle" fill="#231f20">4K</text>
<path d="M654.8 3791.9V3814.9" stroke="#000000" stroke-width="4"/>
<text x="654.8" y="3864.7" font-size="50" text-anchor="middle" fill="#231f20">8K</text>
<path d="M857.2 3791.9V3814.9" stroke="#000000" stroke-width="4"/>
<text x="858.4" y="3864.7" font-size="50" text-anchor="middle" fill="#231f20">12K</text>
<text x="360.3" y="3911" font-size="50" text-anchor="start" fill="#231f20">Enhancers ranked by</text>
<text x="603.2" y="3960.6" font-size="50" text-anchor="middle" fill="#231f20">increasing H3K27ac signal</text>
<text transform="translate(64.3 3854.7) rotate(-90)" font-size="50" fill="#231f20">H3K27ac enhancer signal (rpm)</text>
<path d="M973 3130.7H1007.2V3733.5H973" stroke="#000000" stroke-width="4" fill="none"/>
<text transform="translate(1025.8 3187.7) rotate(90)" font-size="50" fill="#231f20">907 Super-enhancers</text>
<text x="740" y="3579.2" font-size="41.7" text-anchor="end" fill="#231f20"><tspan font-style="italic">T</tspan> (1,242)</text>
<path d="M760.2 3571.3L867.3 3700" stroke="#000000" stroke-width="4" fill="none"/>
<text x="696.2" y="3664.2" font-size="41.7" text-anchor="end" fill="#231f20"><tspan font-style="italic">T</tspan> (2,350)</text>
<path d="M709.1 3654.9L816.2 3725" stroke="#000000" stroke-width="4" fill="none"/>
</g>
<g>
<text x="1717" y="3089.5" font-size="66.7" text-anchor="middle" fill="#231f20">CF_142</text>
<path d="M1346.8 3696.8H2087.8" stroke="#d2d2d2" stroke-width="1.4" stroke-dasharray="4.4 4.4" fill="none"/>
<path d="M2007.5 3113.2V3789.9" stroke="#d2d2d2" stroke-width="1.4" stroke-dasharray="4.4 4.4" fill="none"/>
<path d="M1371.2 3766.4 1374.3 3766 1377.4 3765.7 1380.5 3765.4 1383.6 3765.2 1386.6 3764.9 1389.7 3764.8 1392.7 3764.6 1395.8 3764.5 1398.8 3764.3 1401.8 3764.2 1404.7 3764.1 1407.7 3764 1410.7 3763.9 1413.6 3763.8 1416.5 3763.8 1419.4 3763.7 1422.3 3763.6 1425.2 3763.6 1428.1 3763.5 1431 3763.5 1433.8 3763.4 1436.6 3763.3 1439.5 3763.3 1442.3 3763.2 1445.1 3763.2 1447.9 3763.1 1450.6 3763.1 1453.4 3763 1456.1 3763 1458.9 3762.9 1461.6 3762.9 1464.3 3762.8 1467 3762.8 1469.7 3762.7 1472.4 3762.7 1475 3762.6 1477.7 3762.6 1480.3 3762.5 1482.9 3762.5 1485.6 3762.4 1488.2 3762.3 1490.7 3762.3 1493.3 3762.2 1495.9 3762.2 1498.5 3762.1 1501 3762.1 1503.5 3762 1506 3762 1508.6 3761.9 1511.1 3761.9 1513.5 3761.8 1516 3761.7 1518.5 3761.7 1520.9 3761.6 1523.4 3761.6 1525.8 3761.5 1528.2 3761.4 1530.7 3761.4 1533 3761.3 1535.4 3761.3 1537.8 3761.2 1540.2 3761.2 1542.5 3761.1 1544.9 3761 1547.2 3761 1549.5 3760.9 1551.9 3760.8 1554.2 3760.8 1556.5 3760.7 1558.7 3760.7 1561 3760.6 1563.3 3760.5 1565.5 3760.5 1567.8 3760.4 1570 3760.3 1572.2 3760.3 1574.4 3760.2 1576.6 3760.1 1578.8 3760.1 1581 3760 1583.2 3759.9 1585.4 3759.9 1587.5 3759.8 1589.6 3759.7 1591.8 3759.7 1593.9 3759.6 1596 3759.5 1598.1 3759.5 1600.2 3759.4 1602.3 3759.3 1604.4 3759.3 1606.5 3759.2 1608.5 3759.1 1610.6 3759.1 1612.6 3759 1614.6 3758.9 1616.7 3758.8 1618.7 3758.8 1620.7 3758.7 1623.7 3758.6 1626.6 3758.5 1629.6 3758.4 1632.5 3758.3 1635.4 3758.1 1638.3 3758 1641.2 3757.9 1644 3757.8 1646.8 3757.7 1649.7 3757.6 1652.4 3757.5 1655.2 3757.3 1658 3757.2 1660.7 3757.1 1663.4 3757 1666.1 3756.9 1668.8 3756.7 1671.5 3756.6 1674.1 3756.5 1676.7 3756.4 1679.4 3756.3 1681.9 3756.1 1684.5 3756 1687.1 3755.9 1689.6 3755.8 1692.1 3755.6 1694.6 3755.5 1697.1 3755.4 1699.6 3755.2 1702.1 3755.1 1704.5 3755 1706.9 3754.9 1709.3 3754.7 1711.7 3754.6 1714.1 3754.5 1716.4 3754.3 1718.8 3754.2 1721.1 3754.1 1723.4 3753.9 1725.7 3753.8 1728 3753.7 1730.3 3753.5 1732.5 3753.4 1734.7 3753.2 1737 3753.1 1739.2 3753 1741.4 3752.8 1743.5 3752.7 1745.7 3752.5 1747.8 3752.4 1750 3752.3 1752.1 3752.1 1754.2 3752 1756.3 3751.8 1758.3 3751.7 1760.4 3751.5 1762.4 3751.4 1764.5 3751.2 1766.5 3751.1 1768.5 3750.9 1771.1 3750.7 1773.8 3750.5 1776.4 3750.3 1779 3750.1 1781.5 3749.9 1784 3749.7 1786.6 3749.5 1789 3749.3 1791.5 3749.1 1794 3748.9 1796.4 3748.7 1798.8 3748.5 1801.2 3748.3 1803.5 3748.1 1805.8 3747.8 1808.2 3747.6 1810.5 3747.4 1812.7 3747.2 1815 3747 1817.2 3746.7 1819.4 3746.5 1821.6 3746.3 1823.8 3746.1 1825.9 3745.9 1828.1 3745.6 1830.2 3745.4 1832.3 3745.2 1834.4 3744.9 1836.4 3744.7 1838.5 3744.5 1840.5 3744.3 1842.5 3744 1845 3743.7 1847.4 3743.4 1849.9 3743.1 1852.2 3742.8 1854.6 3742.5 1857 3742.2 1859.3 3741.9 1861.6 3741.6 1863.8 3741.3 1866.1 3741 1868.3 3740.7 1870.5 3740.4 1872.6 3740.1 1874.8 3739.8 1876.9 3739.4 1879 3739.1 1881.1 3738.8 1883.1 3738.5 1885.1 3738.2 1887.1 3737.8 1889.1 3737.5 1891.5 3737.1 1893.8 3736.7 1896.1 3736.3 1898.3 3735.9 1900.5 3735.5 1902.7 3735.1 1904.9 3734.7 1907 3734.3 1909.1 3733.9 1911.2 3733.4 1913.2 3733 1915.3 3732.6 1917.3 3732.2 1919.2 3731.8 1921.5 3731.3 1923.7 3730.8 1925.9 3730.2 1928.1 3729.7 1930.2 3729.2 1932.3 3728.7 1934.3 3728.2 1936.3 3727.7 1938.3 3727.1 1940.3 3726.6 1942.2 3726.1 1944.4 3725.5 1946.5 3724.8 1948.6 3724.2 1950.7 3723.6 1952.7 3723 1954.7 3722.3 1956.6 3721.7 1958.5 3721 1960.6 3720.3 1962.7 3719.6 1964.7 3718.8 1966.7 3718.1 1968.7 3717.3 1970.6 3716.6 1972.4 3715.8 1974.5 3714.9 1976.5 3714.1 1978.4 3713.2 1980.3 3712.3 1982.2 3711.4 1984 3710.6 1985.9 3709.6 1987.8 3708.6 1989.7 3707.6 1991.5 3706.5 1993.2 3705.5 1995 3704.5 1996.8 3703.3 1998.6 3702.2 2000.3 3701 2002 3699.9 2003.6 3698.7 2005.4 3697.4 2007 3696.1 2008.7 3694.8 2010.3 3693.4 2011.8 3692.1 2013.3 3690.7 2014.9 3689.2 2016.4 3687.7 2017.8 3686.2 2019.3 3684.7 2020.6 3683.2 2022 3681.6 2023.2 3680 2024.5 3678.4 2025.7 3676.8 2026.9 3675.2 2028.1 3673.4 2029.3 3671.7 2030.4 3669.9 2031.5 3668 2032.6 3666.2 2033.6 3664.3 2034.6 3662.5 2035.6 3660.6 2036.5 3658.6 2037.4 3656.7 2038.2 3654.9 2039 3653 2039.7 3651.1 2040.5 3649.2 2041.2 3647.3 2041.9 3645.4 2042.6 3643.5 2043.2 3641.5 2043.8 3639.5 2044.4 3637.5 2045 3635.5 2045.6 3633.4 2046.2 3631.4 2046.7 3629.4 2047.2 3627.5 2047.6 3625.5 2048.1 3623.5 2048.5 3621.5 2049 3619.4 2049.4 3617.4 2049.8 3615.3 2050.2 3613.2 2050.6 3611.1 2050.9 3609 2051.3 3607 2051.6 3605 2051.9 3603 2052.2 3601 2052.5 3598.9 2052.8 3596.8 2053.1 3594.7 2053.4 3592.6 2053.6 3590.5 2053.9 3588.4 2054.2 3586.2 2054.4 3584.2 2054.6 3582.2 2054.8 3580.2 2055 3578.1 2055.2 3576.1 2055.4 3574 2055.6 3571.9 2055.8 3569.8 2056 3567.7 2056.2 3565.6 2056.4 3563.4 2056.6 3561.2 2056.7 3559 2056.9 3557 2057 3555 2057.2 3553 2057.3 3550.9 2057.4 3548.9 2057.6 3546.8 2057.7 3544.7 2057.8 3542.6 2058 3540.5 2058.1 3538.3 2058.2 3536.2 2058.3 3534 2058.4 3531.8 2058.5 3529.6 2058.7 3527.4 2058.8 3525.4 2058.8 3523.4 2058.9 3521.4 2059 3519.3 2059.1 3517.3 2059.2 3515.2 2059.3 3513.1 2059.4 3511 2059.5 3508.9 2059.5 3506.8 2059.6 3504.6 2059.7 3502.5 2059.8 3500.3 2059.8 3498.1 2059.9 3495.9 2060 3493.7 2060.1 3491.5 2060.1 3489.3 2060.2 3487 2060.3 3485 2060.3 3483 2060.4 3481 2060.4 3478.9 2060.5 3476.9 2060.5 3474.8 2060.6 3472.7 2060.6 3470.6 2060.7 3468.5 2060.7 3466.4 2060.8 3464.3 2060.8 3462.2 2060.9 3460 2060.9 3457.8 2061 3455.7 2061 3453.5 2061.1 3451.3 2061.1 3449.1 2061.1 3446.8 2061.2 3444.6 2061.2 3442.4 2061.3 3440.1 2061.3 3437.8 2061.3 3435.8 2061.4 3433.8 2061.4 3431.8 2061.4 3429.8 2061.5 3427.7 2061.5 3425.7 2061.5 3425.1" stroke="#ed1c24" stroke-width="17.6" stroke-linecap="round" stroke-linejoin="round" fill="none"/>
<path d="M2061.5 3425.1L2062.5 3136.5" stroke="#ed1c24" stroke-width="4.9" fill="none"/>
<circle cx="2062.5" cy="3136.5" r="8.8" fill="#ed1c24"/>
<circle cx="2062.5" cy="3171.3" r="8.8" fill="#ed1c24"/>
<circle cx="2062.5" cy="3188.5" r="8.8" fill="#ed1c24"/>
<circle cx="2062.5" cy="3222.4" r="8.8" fill="#ed1c24"/>
<circle cx="2062.5" cy="3301.5" r="8.8" fill="#ed1c24"/>
<circle cx="2062.5" cy="3316" r="8.8" fill="#ed1c24"/>
<circle cx="2062.5" cy="3352.1" r="8.8" fill="#ed1c24"/>
<circle cx="2062.5" cy="3365.7" r="8.8" fill="#ed1c24"/>
<circle cx="2062.5" cy="3386" r="8.8" fill="#ed1c24"/>
<circle cx="2062.5" cy="3401.8" r="8.8" fill="#ed1c24"/>
<path d="M1346.8 3696.8H2087.8" stroke="#fff" stroke-opacity=".22" stroke-width="1.4" stroke-dasharray="4.4 4.4" fill="none"/>
<path d="M2007.5 3113.2V3789.9" stroke="#fff" stroke-opacity=".22" stroke-width="1.4" stroke-dasharray="4.4 4.4" fill="none"/>
<rect x="1343.9" y="3111.2" width="745.2" height="680.7" fill="none" stroke="#000000" stroke-width="4.2"/>
<path d="M1327.7 3136.8H1343.9" stroke="#000000" stroke-width="4"/>
<text x="1326.7" y="3154.1" font-size="50" text-anchor="end" fill="#231f20">12K</text>
<path d="M1327.7 3450.1H1343.9" stroke="#000000" stroke-width="4"/>
<text x="1326.7" y="3468.8" font-size="50" text-anchor="end" fill="#231f20">6K</text>
<path d="M1327.7 3763.3H1343.9" stroke="#000000" stroke-width="4"/>
<text x="1321.4" y="3783.4" font-size="50" text-anchor="end" fill="#231f20">0</text>
<path d="M1375.5 3791.9V3814.9" stroke="#000000" stroke-width="4"/>
<text x="1368" y="3864.7" font-size="50" text-anchor="middle" fill="#231f20">0</text>
<path d="M1691.3 3791.9V3814.9" stroke="#000000" stroke-width="4"/>
<text x="1692" y="3864.7" font-size="50" text-anchor="middle" fill="#231f20">5K</text>
<path d="M2007.9 3791.9V3814.9" stroke="#000000" stroke-width="4"/>
<text x="2011.3" y="3864.7" font-size="50" text-anchor="middle" fill="#231f20">10K</text>
<text x="1487.6" y="3911" font-size="50" text-anchor="start" fill="#231f20">Enhancers ranked by</text>
<text x="1730.5" y="3960.6" font-size="50" text-anchor="middle" fill="#231f20">increasing H3K27ac signal</text>
<text transform="translate(1191.6 3854.7) rotate(-90)" font-size="50" fill="#231f20">H3K27ac enhancer signal (rpm)</text>
<path d="M2100.3 3130.7H2134.5V3733.5H2100.3" stroke="#000000" stroke-width="4" fill="none"/>
<text transform="translate(2153.1 3187.7) rotate(90)" font-size="50" fill="#231f20">857 Super-enhancers</text>
<text x="1639.9" y="3663.2" font-size="41.7" text-anchor="end" fill="#231f20"><tspan font-style="italic">T</tspan> (4,518)</text>
<path d="M1653.6 3657.8L1755 3731.8" stroke="#000000" stroke-width="4" fill="none"/>
</g>
<text x="1151.5" y="4054" font-size="66.7" text-anchor="middle" fill="#231f20" class="nk">Top 2 enhancers, or all enhancers with rank &lt;1000,</text>
<text x="599" y="4135.5" font-size="66.7"><tspan fill="#231f20">proximal to </tspan><tspan fill="#231f20" font-style="italic">T</tspan><tspan fill="#231f20"> (&lt;100 kb) are annotated</tspan></text>
<text x="873" y="4213.4" font-size="66.7"><tspan fill="#ed1c24">SEs</tspan><tspan fill="#231f20"> denoted in </tspan><tspan fill="#ed1c24">red</tspan></text>
<text transform="translate(-0.5 4331.3) scale(1.02 1)" font-size="107" font-weight="bold" fill="#231f20">b</text>
<text x="404" y="4407" font-size="66.7"><tspan fill="#231f20" font-style="italic">T</tspan><tspan fill="#231f20" dx="-4.4"> enhancer rank in patient-derived chordoma tissue</tspan></text>
<path d="M229 4427.6H2090" stroke="#000000" stroke-width="4.2"/>
<text x="229" y="4506.5" font-size="66.7" text-anchor="start" fill="#231f20">MGH_1</text>
<text class="nk" x="911" y="4506.5" font-size="66.7" text-anchor="end"><tspan fill="#ed1c24">74;95</tspan></text>
<text x="229" y="4585.5" font-size="66.7" text-anchor="start" fill="#231f20">MGH_2</text>
<text class="nk" x="911" y="4585.5" font-size="66.7" text-anchor="end"><tspan fill="#ed1c24">171;327</tspan></text>
<text x="229" y="4664.5" font-size="66.7" text-anchor="start" fill="#231f20">CF_243</text>
<text class="nk" x="911" y="4664.5" font-size="66.7" text-anchor="end"><tspan fill="#ed1c24">111;189;</tspan><tspan fill="#231f20">803</tspan></text>
<text x="229" y="4744" font-size="66.7" text-anchor="start" fill="#231f20">MGH_4</text>
<text class="nk" x="911" y="4744" font-size="66.7" text-anchor="end"><tspan fill="#ed1c24">320;428</tspan></text>
<text x="1343" y="4506.5" font-size="66.7" text-anchor="start" fill="#231f20">MGH_3</text>
<text class="nk" x="2079" y="4506.5" font-size="66.7" text-anchor="end"><tspan fill="#231f20">225;767</tspan></text>
<text x="1343" y="4585.5" font-size="66.7" text-anchor="start" fill="#231f20">CF_194</text>
<text class="nk" x="2079" y="4585.5" font-size="66.7" text-anchor="end"><tspan fill="#231f20">1,100;1,980</tspan></text>
<text x="1343" y="4664.5" font-size="66.7" text-anchor="start" fill="#231f20">CF_269</text>
<text class="nk" x="2079" y="4664.5" font-size="66.7" text-anchor="end"><tspan fill="#231f20">1,242;2,350</tspan></text>
<text x="1343" y="4744" font-size="66.7" text-anchor="start" fill="#231f20">CF_142</text>
<text class="nk" x="2079" y="4744" font-size="66.7" text-anchor="end"><tspan fill="#231f20">4,518</tspan></text>
</svg>
</body></html>
